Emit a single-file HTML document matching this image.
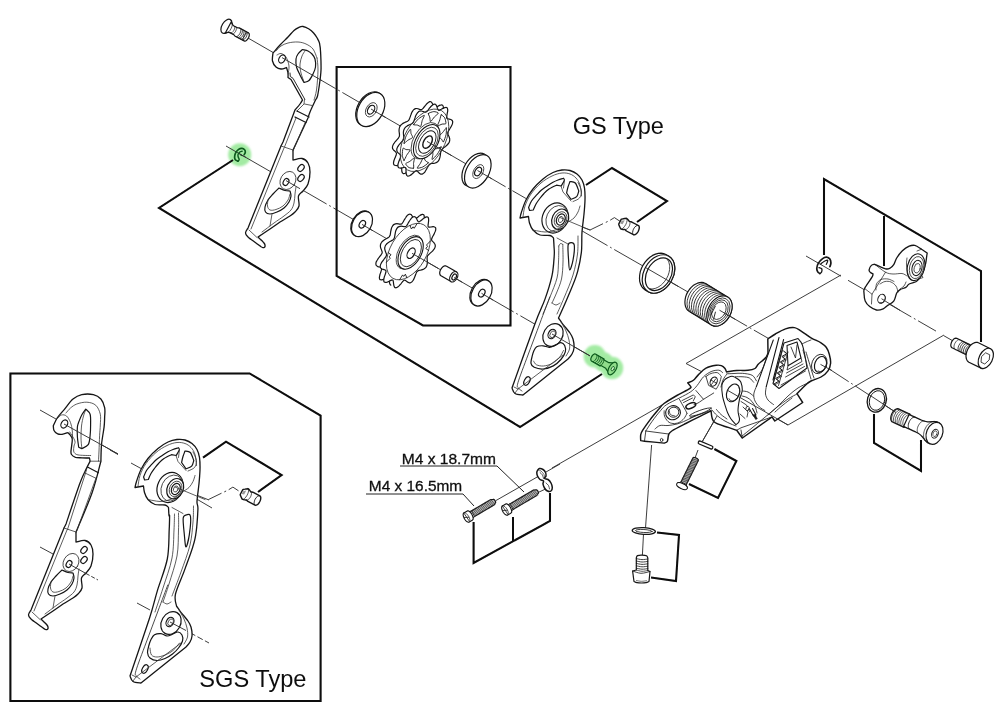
<!DOCTYPE html>
<html><head><meta charset="utf-8"><title>Rear derailleur exploded view</title>
<style>html,body{margin:0;padding:0;background:#fff}svg{display:block}</style>
</head><body>
<svg width="1000" height="709" viewBox="0 0 1000 709">
<defs><filter id="soft" filterUnits="userSpaceOnUse" x="0" y="0" width="1000" height="709"><feGaussianBlur stdDeviation="0.27"/></filter><filter id="gb" filterUnits="userSpaceOnUse" x="0" y="0" width="1000" height="709"><feGaussianBlur stdDeviation="1.3"/></filter></defs>
<rect width="1000" height="709" fill="#fff"/>
<g filter="url(#soft)">
<g id="glow"><circle cx="239.7" cy="154.7" r="11.5" fill="#a3eba3" filter="url(#gb)"/><g filter="url(#gb)" fill="#a3eba3"><circle cx="594.8" cy="356.3" r="11.2"/><circle cx="612" cy="368" r="11.2"/><circle cx="603.5" cy="362" r="10"/></g></g>
<g fill="none" stroke="#333" stroke-width="0.95">
<line x1="248" y1="38" x2="322" y2="80.7"/>
<line x1="322" y1="80.7" x2="335.6" y2="88.6"/>
<line x1="338.2" y1="90.1" x2="339.8" y2="91"/>
<line x1="342.4" y1="92.5" x2="356" y2="100.4"/>
<line x1="356" y1="100.4" x2="492" y2="178.9"/>
<line x1="492" y1="178.9" x2="505.6" y2="186.8"/>
<line x1="508.2" y1="188.3" x2="509.8" y2="189.2"/>
<line x1="512.4" y1="190.7" x2="526" y2="198.5"/>
<line x1="526" y1="198.5" x2="585" y2="232.6"/>
<line x1="585" y1="232.6" x2="607.5" y2="245.6"/>
<line x1="610.1" y1="247.1" x2="611.6" y2="248"/>
<line x1="614.2" y1="249.5" x2="640" y2="264.3"/>
<line x1="640" y1="264.3" x2="733" y2="318"/>
<line x1="733" y1="318" x2="747.1" y2="326.2"/>
<line x1="749.7" y1="327.7" x2="751.3" y2="328.6"/>
<line x1="753.9" y1="330.1" x2="768" y2="338.2"/>
<line x1="226" y1="146" x2="310" y2="194.4"/>
<line x1="310" y1="194.4" x2="326.6" y2="204"/>
<line x1="329.2" y1="205.5" x2="330.8" y2="206.4"/>
<line x1="333.4" y1="207.9" x2="350" y2="217.5"/>
<line x1="350" y1="217.5" x2="494" y2="300.6"/>
<line x1="494" y1="300.6" x2="513.6" y2="311.9"/>
<line x1="516.2" y1="313.4" x2="517.8" y2="314.3"/>
<line x1="520.4" y1="315.8" x2="540" y2="327.1"/>
<line x1="540" y1="327.1" x2="590" y2="355.9"/>
<line x1="806" y1="256" x2="841" y2="276.2"/>
<line x1="848" y1="280.3" x2="866" y2="290.7"/>
<line x1="880" y1="298.8" x2="911.3" y2="316.9"/>
<line x1="913.9" y1="318.4" x2="915.5" y2="319.3"/>
<line x1="918.1" y1="320.8" x2="936" y2="331.1"/>
<line x1="944" y1="335.8" x2="954" y2="341.5"/>
<line x1="820" y1="363" x2="848.7" y2="381.7"/>
<line x1="851.2" y1="383.3" x2="852.7" y2="384.3"/>
<line x1="855.2" y1="385.9" x2="896" y2="412.5"/>
<line x1="841" y1="275" x2="686" y2="363.5"/>
<line x1="686" y1="363.5" x2="708" y2="375"/>
<line x1="944" y1="335" x2="788" y2="425"/>
<line x1="788" y1="425" x2="727" y2="390"/>
<line x1="552" y1="468" x2="662" y2="405"/>
<line x1="651.6" y1="445" x2="645.5" y2="528"/>
<line x1="643.5" y1="534" x2="642.4" y2="555"/>
<line x1="717" y1="416" x2="702" y2="442"/>
<line x1="698" y1="450" x2="695" y2="458"/>
<line x1="40" y1="410" x2="118" y2="454"/>
<line x1="40" y1="547" x2="53" y2="554"/>
<line x1="69" y1="564" x2="86" y2="573.5"/>
<line x1="86" y1="573.5" x2="98" y2="580" stroke-dasharray="4 2"/>
<line x1="110" y1="450" x2="118" y2="454.5"/>
<line x1="131" y1="463" x2="141" y2="468.5"/>
<line x1="176" y1="487" x2="212" y2="508"/>
<line x1="137" y1="603" x2="150" y2="610"/>
<line x1="170" y1="622" x2="190" y2="632.7"/>
<line x1="190" y1="632.7" x2="209" y2="643" stroke-dasharray="6 2.5"/>
<line x1="558" y1="218" x2="590" y2="230"/>
<line x1="590" y1="230" x2="603" y2="223.7"/>
<line x1="605.8" y1="222.4" x2="607.6" y2="221.5"/>
<line x1="208.5" y1="499.5" x2="221.5" y2="493.2"/>
<line x1="224.3" y1="491.9" x2="226.1" y2="491"/>
<line x1="176" y1="487" x2="209" y2="500"/>
<line x1="560" y1="464" x2="496" y2="500.5"/>
<line x1="552" y1="486" x2="537" y2="493"/>
<path d="M610.2,220.2 L614.4,217.6 L620,221.3"/>
<path d="M228.7,489.7 L232.9,487.1 L238.5,490.8"/>
<path d="M400,466 L497,466 L524,492" stroke="#222" stroke-width="1"/>
<path d="M366,494 L463,494 L474,506" stroke="#222" stroke-width="1"/>
</g>
<g fill="#fff" stroke="#141414" stroke-width="1.2" stroke-linejoin="round" stroke-linecap="round">
<path d="M273,53 C274.2,51.7 277.5,47.7 280,45 C282.5,42.3 285.7,39.4 288,37 C290.3,34.6 292.2,32.1 294,30.5 C295.8,28.9 297.5,28.1 299,27.4 C300.5,26.7 301.3,26.2 303,26.5 C304.7,26.8 307.2,27.9 309,29 C310.8,30.1 312.3,31.5 313.6,33 C314.9,34.5 316,36 317,37.8 C318,39.6 319,41 319.6,43.7 C320.2,46.4 320.5,49.6 320.7,54 C320.9,58.4 321.2,65 321,70 C320.8,75 320.1,79.7 319.5,84 C318.9,88.3 318.2,93.3 317.5,96 C316.8,98.7 315.8,99.3 315.5,100 C314.6,102 311.2,109 310,112 C308.8,115 308.3,117 308,118 L293,150 L293,160 C294.5,159.8 299.5,158 302,158.5 C304.5,159 306.7,160.8 308,163 C309.3,165.2 310,168.5 310,172 C310,175.5 309.2,180.8 308,184 C306.8,187.2 304.6,189 303,191 C301.4,193 299.2,193.5 298.5,196 C297.8,198.5 299.6,203.3 299,206 C298.4,208.7 296.5,210.3 295,212 C293.5,213.7 292.5,214.3 290,216 C287.5,217.7 283.3,219.8 280,222 C276.7,224.2 273.7,226.5 270,229 C266.3,231.5 260,235.7 258,237 C259,238 262.8,241.4 264,243 C265.2,244.6 265.2,245.8 265,246.5 C264.8,247.2 264,248.1 262.5,247.5 C261,246.9 258.4,244.8 256,243 C253.6,241.2 249.8,238.7 248,237 C246.2,235.3 245.5,234.5 245.5,233 C245.5,231.5 247.6,228.8 248,228 L281,146 L283,142 L295,110 C295.8,109 298.8,105.7 300,104 C301.2,102.3 302.1,100.7 302.5,100 L291,79.5 L288,77.5 C288,76.8 288.2,74.7 288,73 C287.8,71.3 286.8,68.4 286.5,67.5 C285.6,67.8 282.8,69.1 281,69 C279.2,68.9 277.4,68.3 276,67 C274.6,65.7 273,63.3 272.5,61 C272,58.7 272.9,54.3 273,53Z" stroke-width="1.3"/>
<path d="M276,51 C276.8,50.2 279,47.3 281,46 C283,44.7 285.2,43.7 288,43 C290.8,42.3 295,41.8 298,42 C301,42.2 303.5,42.8 306,44 C308.5,45.2 311.2,46.7 313,49 C314.8,51.3 316.3,56.5 317,58" stroke-width="0.8" stroke="#333" fill="none"/>
<path d="M317,58 C317.2,60 318.1,64.7 318,70 C317.9,75.3 317.2,85 316.5,90 C315.8,95 314.4,98.3 314,100" stroke-width="0.8" stroke="#333" fill="none"/>
<path d="M288,74 C288.2,72.7 289.3,68.8 289,66 C288.7,63.2 287.3,59.1 286,57 C284.7,54.9 282.5,53.8 281,53.5 C279.5,53.2 277.7,54.8 277,55" stroke-width="0.8" stroke="#333" fill="none"/>
<ellipse cx="282" cy="59" rx="3" ry="4.3" transform="rotate(30 282 59)"/>
<path d="M302.5,49.5 C301.8,50.2 299.1,52.4 298,54 C296.9,55.6 296.2,56.8 296,59 C295.8,61.2 295.8,64.3 296.5,67 C297.2,69.7 298.8,72.4 300,75 C301.2,77.6 303.3,81.2 304,82.5 C304.8,82.2 307.5,81.9 309,80.5 C310.5,79.1 311.9,76.2 313,74 C314.1,71.8 315.2,69.5 315.5,67 C315.8,64.5 315.6,61.2 315,59 C314.4,56.8 313.2,55.3 312,54 C310.8,52.7 309.6,51.8 308,51 C306.4,50.2 303.4,49.8 302.5,49.5Z" fill="none"/>
<path d="M304,82 C303.5,80.5 301.7,76 301,73 C300.3,70 299.8,66.8 300,64 C300.2,61.2 301.2,58.2 302,56 C302.8,53.8 304.5,51.8 305,51" stroke-width="0.8" stroke="#333" fill="none"/>
<path d="M304.5,99.5 L304,104 L297,111" stroke-width="0.8" stroke="#333" fill="none"/>
<path d="M297,111 L309,117" fill="none"/>
<path d="M295,117 L306,122.5" fill="none"/>
<path d="M304.5,104 L312,105.5" stroke-width="0.8" stroke="#333" fill="none"/>
<path d="M290,73 L290.3,76.5 L293,78.3 L304.8,99.3" stroke-width="0.9" fill="none"/>
<path d="M296,118 L284.5,147" stroke-width="0.8" stroke="#333" fill="none"/>
<path d="M305,123 L293,151" stroke-width="0.8" stroke="#333" fill="none"/>
<path d="M281,146 L293,150" stroke-width="0.8" stroke="#333" fill="none"/>
<path d="M284,148 L251,229" stroke-width="0.8" stroke="#333" fill="none"/>
<ellipse cx="288" cy="180.5" rx="7.5" ry="9.5" transform="rotate(30 288 180.5)" stroke-width="0.8" stroke="#333"/>
<ellipse cx="286" cy="182" rx="2.6" ry="3.6" transform="rotate(30 286 182)"/>
<ellipse cx="301" cy="168" rx="2.6" ry="3.8" transform="rotate(40 301 168)"/>
<ellipse cx="301" cy="178" rx="2.6" ry="3.8" transform="rotate(40 301 178)"/>
<path d="M279,188 C278,189 274.8,192 273,194 C271.2,196 269.3,197.8 268,200 C266.7,202.2 265.4,205 265,207 C264.6,209 264.7,210.8 265.5,212 C266.3,213.2 268.1,214 270,214 C271.9,214 274.7,213 277,212 C279.3,211 282,209.7 284,208 C286,206.3 287.8,204 289,202 C290.2,200 290.8,197.8 291,196 C291.2,194.2 290.2,191.8 290,191 C289.2,190.9 286.8,191 285,190.5 C283.2,190 280,188.4 279,188Z" fill="none"/>
<path d="M268,200 C267.9,201 267.2,204.3 267.5,206 C267.8,207.7 268.6,209.4 270,210 C271.4,210.6 273.8,210.2 276,209.5 C278.2,208.8 281,207.6 283,206 C285,204.4 286.8,202 288,200 C289.2,198 289.7,195 290,194" stroke-width="0.8" stroke="#333" fill="none"/>
<path d="M296,187 C295.8,188.2 295.3,191.3 295,194 C294.7,196.7 294.7,200.3 294,203 C293.3,205.7 292.7,207.8 291,210 C289.3,212.2 286.8,213.8 284,216 C281.2,218.2 277.7,220.3 274,223 C270.3,225.7 264,230.5 262,232" stroke-width="0.8" stroke="#333" fill="none"/>
<path d="M272,214 L270,226" stroke-width="0.8" stroke="#333" fill="none"/>
<path d="M249,230 L257,237.5" stroke-width="0.8" stroke="#333" fill="none"/>
<path d="M53.3,425.7 C54,424.3 55.7,420.1 57.5,417.5 C59.3,414.9 61.4,412.9 64,409.8 C66.6,406.7 70,401.5 73,399 C76,396.5 78.4,395.3 81.8,394.6 C85.2,393.9 90.1,393.9 93.3,394.6 C96.5,395.3 99,396.8 100.9,399 C102.8,401.2 104.1,404.7 104.7,407.9 C105.3,411.1 104.7,414.8 104.6,418 C104.5,421.2 104.6,422.4 104.1,426.9 C103.6,431.3 102,439 101.5,444.7 C101,450.4 101,458.4 100.9,461.2 C99.4,466.5 96.2,481.2 92,493 C87.8,504.8 78.7,525.5 76,532 L76,542 C77.5,541.8 82.5,540 85,540.5 C87.5,541 89.7,542.8 91,545 C92.3,547.2 93,550.5 93,554 C93,557.5 92.2,562.8 91,566 C89.8,569.2 87.6,571 86,573 C84.4,575 82.2,575.5 81.5,578 C80.8,580.5 82.6,585.3 82,588 C81.4,590.7 79.5,592.3 78,594 C76.5,595.7 75.5,596.3 73,598 C70.5,599.7 66.3,601.8 63,604 C59.7,606.2 56.7,608.5 53,611 C49.3,613.5 43,617.7 41,619 C42,620 45.8,623.4 47,625 C48.2,626.6 48.2,627.8 48,628.5 C47.8,629.2 47,630.1 45.5,629.5 C44,628.9 41.4,626.8 39,625 C36.6,623.2 32.8,620.7 31,619 C29.2,617.3 28.5,616.5 28.5,615 C28.5,613.5 30.6,610.8 31,610 L64,528 L66,524 C68.3,517.2 76.5,492.4 80,483 C83.5,473.6 85.2,471.2 86.9,467.6 C88.6,464 89.6,462.3 90.1,461.2 L89.5,458 C88.2,458 84.3,457.9 82,457.8 C79.7,457.7 77.2,457.9 75.5,457.4 C73.8,456.8 72.2,455.6 71.5,454.5 C70.8,453.4 70.9,453.5 71,451 C71.1,448.5 72.4,442.2 72.3,439.6 C72.2,437 71.2,436.7 70.5,435.5 C69.8,434.3 68.3,433.1 67.9,432.6 C66.9,432.9 63.7,434.1 62,434.3 C60.3,434.5 59,434.5 57.7,433.9 C56.4,433.3 54.7,431.9 54,430.5 C53.3,429.1 53.4,426.5 53.3,425.7Z" stroke-width="1.3"/>
<path d="M66,413 C66.8,412.2 68.7,409.5 70.5,408 C72.3,406.5 74.1,405 76.8,404 C79.5,403 83.7,402 86.9,402.2 C90.1,402.4 93.6,403.3 95.8,405.3 C98,407.3 99.5,410.9 100.3,414.2 C101,417.5 100.4,421.4 100.3,425 C100.2,428.6 99.8,431.5 99.6,435.8 C99.4,440.1 99.2,446.8 99,451 C98.8,455.2 98.6,459.3 98.5,461" stroke-width="0.8" stroke="#333" fill="none"/>
<path d="M72.5,440 C72.5,438.5 72.6,433.9 72.3,431 C72,428.1 71.5,425 70.5,422.5 C69.5,420 68,417.2 66.5,416 C65,414.8 63,414.6 61.5,415 C60,415.4 58.2,417.9 57.5,418.5" stroke-width="0.8" stroke="#333" fill="none"/>
<ellipse cx="64.3" cy="424" rx="3.1" ry="4.3" transform="rotate(30 64.3 424)"/>
<path d="M85.7,409.1 C85.1,410 83.1,412.6 82,414.5 C80.9,416.4 80.1,418.5 79.3,420.6 C78.5,422.7 77.7,424.2 77.4,426.9 C77.1,429.6 77.2,433.6 77.4,437 C77.6,440.4 78.5,445.6 78.7,447.3 L81.8,448.6 C82.9,448 86.8,446.8 88.2,444.7 C89.6,442.6 89.7,439.1 90.1,435.8 C90.5,432.5 90.6,428.6 90.6,425 C90.6,421.4 90.9,416.8 90.1,414.2 C89.3,411.6 86.4,410 85.7,409.1Z" fill="none"/>
<path d="M81.8,448 C81.7,446.3 81,441.7 81,438 C81,434.3 81.1,429.7 81.5,426 C81.9,422.3 82.8,418.7 83.5,416 C84.2,413.3 85.3,411 85.7,410" stroke-width="0.8" stroke="#333" fill="none"/>
<path d="M69.8,432 C70.7,433.5 74.2,438.6 74.9,440.9 C75.6,443.2 74.2,444.3 74,446 C73.8,447.7 73.4,449.8 73.6,451 C73.8,452.2 74.3,452.9 75,453.5 C75.7,454.1 76.5,454.6 78,454.9 C79.5,455.2 81.9,455.3 84,455.4 C86.1,455.5 89.6,455.5 90.7,455.5" stroke-width="0.8" stroke="#333" fill="none"/>
<path d="M90.1,461.2 L100.9,461.2" stroke-width="0.8" stroke="#333" fill="none"/>
<path d="M87.5,467 L98.4,472.7" fill="none"/>
<path d="M85,473 L96.5,478.5" stroke-width="0.8" stroke="#333" fill="none"/>
<path d="M86.5,470 L67.5,529.5" stroke-width="0.8" stroke="#333" fill="none"/>
<path d="M96,478 L76,533" stroke-width="0.8" stroke="#333" fill="none"/>
<path d="M64,528 L76,532" stroke-width="0.8" stroke="#333" fill="none"/>
<path d="M67,530 L34,611" stroke-width="0.8" stroke="#333" fill="none"/>
<ellipse cx="71" cy="562.5" rx="7.5" ry="9.5" transform="rotate(30 71 562.5)" stroke-width="0.8" stroke="#333"/>
<ellipse cx="69" cy="564" rx="2.6" ry="3.6" transform="rotate(30 69 564)"/>
<ellipse cx="84" cy="550" rx="2.6" ry="3.8" transform="rotate(40 84 550)"/>
<ellipse cx="84" cy="560" rx="2.6" ry="3.8" transform="rotate(40 84 560)"/>
<path d="M62,570 C61,571 57.8,574 56,576 C54.2,578 52.3,579.8 51,582 C49.7,584.2 48.4,587 48,589 C47.6,591 47.7,592.8 48.5,594 C49.3,595.2 51.1,596 53,596 C54.9,596 57.7,595 60,594 C62.3,593 65,591.7 67,590 C69,588.3 70.8,586 72,584 C73.2,582 73.8,579.8 74,578 C74.2,576.2 73.2,573.8 73,573 C72.2,572.9 69.8,573 68,572.5 C66.2,572 63,570.4 62,570Z" fill="none"/>
<path d="M51,582 C50.9,583 50.2,586.3 50.5,588 C50.8,589.7 51.6,591.4 53,592 C54.4,592.6 56.8,592.2 59,591.5 C61.2,590.8 64,589.6 66,588 C68,586.4 69.8,584 71,582 C72.2,580 72.7,577 73,576" stroke-width="0.8" stroke="#333" fill="none"/>
<path d="M79,569 C78.8,570.2 78.3,573.3 78,576 C77.7,578.7 77.7,582.3 77,585 C76.3,587.7 75.7,589.8 74,592 C72.3,594.2 69.8,595.8 67,598 C64.2,600.2 60.7,602.3 57,605 C53.3,607.7 47,612.5 45,614" stroke-width="0.8" stroke="#333" fill="none"/>
<path d="M55,596 L53,608" stroke-width="0.8" stroke="#333" fill="none"/>
<path d="M32,612 L40,619.5" stroke-width="0.8" stroke="#333" fill="none"/>
<path d="M520,218 C520.2,217 520.5,215 521.5,212 C522.5,209 524.1,203.8 526,200 C527.9,196.2 530.2,192.5 533,189 C535.8,185.5 539.7,181.8 543,179 C546.3,176.2 549.8,174 553,172.5 C556.2,171 559.2,170.3 562,170 C564.8,169.7 567.5,169.8 570,170.5 C572.5,171.2 575,172.4 577,174 C579,175.6 580.8,177.7 582,180 C583.2,182.3 584,184.7 584.5,188 C585,191.3 585.1,195.7 585,200 C584.9,204.3 584.5,208.7 584,214 C583.5,219.3 582.5,225.5 582,232 C581.5,238.5 582.2,245.8 581.3,252.9 C580.4,260 579,267.1 576.7,274.6 C574.4,282.1 570.4,290.7 567.4,297.9 C564.4,305.1 560,314.6 558.5,318 C559.1,318.8 560.8,321.3 562,323 C563.2,324.7 564.7,326.3 566,328 C567.3,329.7 568.8,331.2 570,333 C571.2,334.8 572.3,336.5 573,339 C573.7,341.5 574.2,345.5 574,348 C573.8,350.5 573,352.2 572,354 C571,355.8 568.7,358.2 568,359 L523,395 C521.7,394.8 516.8,394.7 515,393.5 C513.2,392.3 512.5,388.9 512,388 C515.8,377.4 529.3,339 534.8,324.2 C540.3,309.4 542,307.4 544.9,299.4 C547.8,291.4 550.3,283.4 551.9,276.2 C553.5,269 553.9,261 554.2,256 C554.6,251 554.1,249 554,246 C553.9,243 553.6,239.3 553.5,238 C552.9,237.6 552.2,236 550,235.5 C547.8,235 542.8,235.9 540,235 C537.2,234.1 534.8,232 533,230 C531.2,228 530.2,225.2 529.5,223 C528.8,220.8 528.7,217.6 528.5,216.5 L520,218Z" stroke-width="1.3"/>
<path d="M523,217 C523.3,215.2 523.7,209.8 525,206 C526.3,202.2 528.3,197.8 531,194 C533.7,190.2 537.5,186 541,183 C544.5,180 548.5,177.7 552,176 C555.5,174.3 559,173.3 562,173 C565,172.7 567.7,173.2 570,174 C572.3,174.8 574.3,176.2 576,178 C577.7,179.8 579.1,182 580,185 C580.9,188 581.2,194.2 581.5,196" stroke-width="0.8" stroke="#333" fill="none"/>
<path d="M528.6,207.5 C529.1,206.4 530.2,203.1 531.5,201 C532.8,198.9 534.7,197 536.4,195.2 C538.1,193.4 539.7,191.5 541.5,190 C543.3,188.5 545.3,187.3 547.2,186 C549.1,184.7 551.2,183.3 553,182.3 C554.8,181.3 556.2,180.7 558,180 C559.8,179.3 562.6,178.5 563.5,178.2 C563.6,178.6 564.7,179.1 564.3,180.4 C563.9,181.7 561.7,185.1 561.2,186 L556.5,185.2 C555.2,185.8 551.1,187.6 549,189 C546.9,190.4 545.5,191.9 544,193.5 C542.5,195.1 541.1,196.8 539.8,198.5 C538.5,200.2 537.1,202.1 536,204 C534.9,205.9 533.8,209 533.3,210 L529.6,210.5 L528.6,207.5Z" fill="none"/>
<path d="M570,181.5 C569.7,182.4 568.6,185.1 568,187 C567.4,188.9 566.8,192 566.6,193 L571,199.3 C572,198.9 575.4,198 576.7,196.6 C578,195.2 578.4,191.9 578.8,191 C578.2,189.7 576.8,184.6 575.3,183 C573.8,181.4 570.9,181.8 570,181.5Z" fill="none"/>
<path d="M573,201.5 C574.1,200.9 578.1,199.8 579.5,198 C580.9,196.2 581.8,193.6 581.5,191 C581.2,188.4 578.6,183.9 578,182.5" stroke-width="0.8" stroke="#333" fill="none"/>
<path d="M564.5,180 L563.5,188" stroke-width="0.8" stroke="#333" fill="none"/>
<path d="M561,186 L563,192 L571,201" stroke-width="0.8" stroke="#333" fill="none"/>
<ellipse cx="555" cy="218" rx="12.5" ry="15.5" transform="rotate(25 555 218)"/>
<ellipse cx="557" cy="218.6" rx="10.5" ry="13.5" transform="rotate(25 557 218.6)" stroke-width="0.8" stroke="#333"/>
<ellipse cx="560.2" cy="219.2" rx="8" ry="10.6" transform="rotate(25 560.2 219.2)"/>
<ellipse cx="560.6" cy="219.4" rx="6" ry="8" transform="rotate(25 560.6 219.4)" stroke-width="0.8" stroke="#333"/>
<ellipse cx="560.8" cy="219.5" rx="4.2" ry="5.8" transform="rotate(25 560.8 219.5)"/>
<ellipse cx="560.8" cy="219.5" rx="2.2" ry="3.2" transform="rotate(25 560.8 219.5)" stroke-width="0.8" stroke="#333"/>
<path d="M560,217.5 L590,230" stroke-width="0.8" stroke="#333" fill="none"/>
<path d="M533,230 C533.8,230.2 536,230.7 538,231 C540,231.3 542.7,232 545,232 C547.3,232 549.5,231.7 552,231 C554.5,230.3 557.5,229.3 560,228 C562.5,226.7 565.8,223.8 567,223" stroke-width="0.8" stroke="#333" fill="none"/>
<path d="M568,222 C569,221.3 572.3,219.7 574,218 C575.7,216.3 577,214 578,212 C579,210 579.7,207 580,206" stroke-width="0.8" stroke="#333" fill="none"/>
<path d="M568.1,245.2 C568.5,242.6 570.3,242.7 571.2,242.7 C572.1,242.7 574,242.6 574.3,245.2 C574.6,247.8 573.7,256.4 573,260.1 C572.4,263.8 570.4,270 569.7,270 C569,270 568.8,263.8 568.6,260.1 C568.3,256.4 567.7,247.8 568.1,245.2Z" fill="none"/>
<path d="M558.8,246 C558.8,248.7 558.8,256.7 558.5,262 C558.2,267.3 558.4,272.2 557,278 C555.6,283.8 552.3,291 550,297 C547.7,303 544.2,311.2 543,314" stroke-width="0.8" stroke="#333" fill="none"/>
<path d="M562.8,244.5 C562.8,247.4 563.2,256.2 563,262 C562.8,267.8 562.6,273.8 561.5,279 C560.4,284.2 558.1,289 556.5,293 C554.9,297 552.8,301.3 552,303" stroke-width="0.8" stroke="#333" fill="none"/>
<path d="M558.8,246 C559.1,245.6 559.8,243.8 560.5,243.5 C561.2,243.2 562.4,244.3 562.8,244.5" stroke-width="0.8" stroke="#333" fill="none"/>
<path d="M578,236 C577.9,239 578.3,247.5 577.5,254 C576.7,260.5 575.2,267.7 573,275 C570.8,282.3 566.7,291.5 564,298 C561.3,304.5 558.2,311.3 557,314" stroke-width="0.8" stroke="#333" fill="none"/>
<path d="M552,303 C552.7,303.3 554.7,305 556,305 C557.3,305 559.3,303.3 560,303" stroke-width="0.8" stroke="#333" fill="none"/>
<path d="M557,238 L568,244" stroke-width="0.8" stroke="#333" fill="none"/>
<ellipse cx="553" cy="335" rx="9.5" ry="12" transform="rotate(30 553 335)"/>
<ellipse cx="552" cy="334" rx="3.6" ry="5" transform="rotate(30 552 334)"/>
<ellipse cx="552.6" cy="334.3" rx="2.4" ry="3.6" transform="rotate(30 552.6 334.3)" stroke-width="0.8" stroke="#333"/>
<path d="M543.1,345.8 C541,345.7 538.2,345.9 536.7,346.8 C535.2,347.7 534.5,349.5 533.8,351 C533.1,352.5 532.8,353.6 532.3,355.7 C531.8,357.8 530.7,361.4 531,363.3 C531.3,365.2 532.2,366.4 534.2,367.3 C536.2,368.2 539.9,369.2 543.1,369 C546.3,368.8 550.3,367.5 553.3,365.9 C556.3,364.3 558.9,361.8 560.9,359.5 C562.9,357.2 564.7,354.2 565.3,351.9 C565.9,349.6 565.4,347.2 564.7,345.6 C564,344.1 562.4,342.7 560.9,342.6 C559.4,342.5 557.7,344.1 555.8,344.9 C553.9,345.7 551.5,347.1 549.4,347.3 C547.3,347.5 545.2,345.9 543.1,345.8Z" fill="none"/>
<path d="M533.5,361 C534,361.6 534.8,364 536.5,364.8 C538.2,365.6 540.8,366.2 543.5,366 C546.2,365.8 549.8,364.8 552.5,363.3 C555.2,361.9 557.7,359.4 559.5,357.3 C561.3,355.2 562.8,351.6 563.5,350.5" stroke-width="0.8" stroke="#333" fill="none"/>
<path d="M561,322 C561.8,323.5 564.7,328 566,331 C567.3,334 568.4,337 569,340 C569.6,343 570,346.3 569.5,349 C569,351.7 566.6,354.8 566,356" stroke-width="0.8" stroke="#333" fill="none"/>
<ellipse cx="527" cy="381" rx="2.6" ry="4.6" transform="rotate(28 527 381)"/>
<path d="M549.8,297 C548.2,301.3 543.6,313.3 540,323 C536.4,332.7 531.7,345.1 528,355 C524.3,364.9 519.6,377 518,382.5 C516.4,388 517.8,386.6 518.5,388 C519.2,389.4 521.4,390.5 522,391" stroke-width="0.85" stroke="#2a2a2a" fill="none"/>
<path d="M515,393 L518,389 L563,355" stroke-width="0.8" stroke="#333" fill="none"/>
<path d="M518,389 L514,387" stroke-width="0.8" stroke="#333" fill="none"/>
<path d="M135,487.5 C135.2,486.5 135.5,484.5 136.5,481.5 C137.5,478.5 139.1,473.3 141,469.5 C142.9,465.7 145.2,462 148,458.5 C150.8,455 154.7,451.2 158,448.5 C161.3,445.8 164.8,443.5 168,442 C171.2,440.5 174.2,439.8 177,439.5 C179.8,439.2 182.5,439.3 185,440 C187.5,440.7 190,441.9 192,443.5 C194,445.1 195.8,447.2 197,449.5 C198.2,451.8 199,454.2 199.5,457.5 C200,460.8 200.1,465.2 200,469.5 C199.9,473.8 199.5,478.2 199,483.5 C198.5,488.8 197.2,497.1 197,501.5 C196.8,505.9 198.2,503.3 197.9,509.6 C197.6,515.9 197.1,529.3 194.9,539.2 C192.8,549.1 188.2,559.8 185,568.9 C181.8,578 176.9,587.8 175.5,594 C174.1,600.2 176.3,604 176.5,606 L176.5,606 C177.1,606.8 178.8,609.3 180,611 C181.2,612.7 182.7,614.3 184,616 C185.3,617.7 186.8,619.2 188,621 C189.2,622.8 190.3,624.5 191,627 C191.7,629.5 192.2,633.5 192,636 C191.8,638.5 191,640.2 190,642 C189,643.8 186.7,646.2 186,647 L141,683 C139.7,682.8 134.8,682.7 133,681.5 C131.2,680.3 130.5,676.9 130,676 C133.2,666.4 144.9,632.4 149.5,618.2 C154.1,604 154.4,600.5 157.4,590.6 C160.4,580.7 165.3,569.2 167.3,559 C169.3,548.8 168.8,536.6 169.2,529.4 C169.6,522.2 169.6,518.3 169.6,516 C169.6,513.7 169.2,516.9 169,515.5 C168.8,514.1 168.6,508.8 168.5,507.5 C167.9,507.1 167.2,505.5 165,505 C162.8,504.5 157.8,505.4 155,504.5 C152.2,503.6 149.8,501.5 148,499.5 C146.2,497.5 145.2,494.8 144.5,492.5 C143.8,490.2 143.7,487.1 143.5,486 L135,487.5Z" stroke-width="1.3"/>
<path d="M138,486.5 C138.3,484.7 138.7,479.3 140,475.5 C141.3,471.7 143.3,467.3 146,463.5 C148.7,459.7 152.5,455.5 156,452.5 C159.5,449.5 163.5,447.2 167,445.5 C170.5,443.8 174,442.8 177,442.5 C180,442.2 182.7,442.7 185,443.5 C187.3,444.3 189.3,445.7 191,447.5 C192.7,449.3 194.1,451.5 195,454.5 C195.9,457.5 196.2,463.7 196.5,465.5" stroke-width="0.8" stroke="#333" fill="none"/>
<path d="M143.6,477 C144.1,475.9 145.2,472.6 146.5,470.5 C147.8,468.4 149.7,466.5 151.4,464.7 C153.1,462.9 154.7,461 156.5,459.5 C158.3,458 160.3,456.8 162.2,455.5 C164.1,454.2 166.2,452.8 168,451.8 C169.8,450.8 171.2,450.2 173,449.5 C174.8,448.8 177.6,448 178.5,447.7 C178.6,448.1 179.7,448.6 179.3,449.9 C178.9,451.2 176.7,454.6 176.2,455.5 L171.5,454.7 C170.2,455.3 166.1,457.1 164,458.5 C161.9,459.9 160.5,461.4 159,463 C157.5,464.6 156.1,466.2 154.8,468 C153.5,469.8 152.1,471.6 151,473.5 C149.9,475.4 148.7,478.5 148.3,479.5 L144.6,480 L143.6,477Z" fill="none"/>
<path d="M185,451 C184.7,451.9 183.6,454.6 183,456.5 C182.4,458.4 181.8,461.5 181.6,462.5 L186,468.8 C187,468.4 190.4,467.5 191.7,466.1 C193,464.7 193.4,461.4 193.8,460.5 C193.2,459.2 191.8,454.1 190.3,452.5 C188.8,450.9 185.9,451.2 185,451Z" fill="none"/>
<path d="M188,471 C189.1,470.4 193.1,469.2 194.5,467.5 C195.9,465.8 196.8,463.1 196.5,460.5 C196.2,457.9 193.6,453.4 193,452" stroke-width="0.8" stroke="#333" fill="none"/>
<path d="M179.5,449.5 L178.5,457.5" stroke-width="0.8" stroke="#333" fill="none"/>
<path d="M176,455.5 L178,461.5 L186,470.5" stroke-width="0.8" stroke="#333" fill="none"/>
<ellipse cx="170" cy="487.5" rx="12.5" ry="15.5" transform="rotate(25 170 487.5)"/>
<ellipse cx="172" cy="488.1" rx="10.5" ry="13.5" transform="rotate(25 172 488.1)" stroke-width="0.8" stroke="#333"/>
<ellipse cx="175.2" cy="488.7" rx="8" ry="10.6" transform="rotate(25 175.2 488.7)"/>
<ellipse cx="175.6" cy="488.9" rx="6" ry="8" transform="rotate(25 175.6 488.9)" stroke-width="0.8" stroke="#333"/>
<ellipse cx="175.8" cy="489" rx="4.2" ry="5.8" transform="rotate(25 175.8 489)"/>
<ellipse cx="175.8" cy="489" rx="2.2" ry="3.2" transform="rotate(25 175.8 489)" stroke-width="0.8" stroke="#333"/>
<path d="M175,487 L205,499.5" stroke-width="0.8" stroke="#333" fill="none"/>
<path d="M148,499.5 C148.8,499.7 151,500.2 153,500.5 C155,500.8 157.7,501.5 160,501.5 C162.3,501.5 164.5,501.2 167,500.5 C169.5,499.8 172.5,498.8 175,497.5 C177.5,496.2 180.8,493.3 182,492.5" stroke-width="0.8" stroke="#333" fill="none"/>
<path d="M183,491.5 C184,490.8 187.3,489.2 189,487.5 C190.7,485.8 192,483.5 193,481.5 C194,479.5 194.7,476.5 195,475.5" stroke-width="0.8" stroke="#333" fill="none"/>
<path d="M183.2,518 C183.6,514.9 185.8,515 186.8,514.8 C187.9,514.5 190.1,513.5 190.5,516.5 C190.9,519.5 190,530.2 189.3,534.8 C188.6,539.4 186.7,546.9 186,547 C185.3,547.1 184.8,539.8 184.4,535.4 C184,531 182.8,521.1 183.2,518Z" fill="none"/>
<path d="M174.5,514 C174.4,516.7 174.4,522.7 174,530 C173.6,537.3 173.8,548.3 172,558 C170.2,567.7 165.8,579 163,588 C160.2,597 156.3,608 155,612" stroke-width="0.8" stroke="#333" fill="none"/>
<path d="M178.5,513 C178.5,515.8 178.8,522.8 178.5,530 C178.2,537.2 178.6,547 177,556 C175.4,565 171.3,576.3 169,584 C166.7,591.7 164,599 163,602" stroke-width="0.8" stroke="#333" fill="none"/>
<path d="M193.5,506 C193.4,508.7 193.6,515.5 193,522 C192.4,528.5 192,536.7 190,545 C188,553.3 184,563.5 181,572 C178,580.5 173.5,592 172,596" stroke-width="0.8" stroke="#333" fill="none"/>
<path d="M163,602 C163.7,602.3 165.7,604 167,604 C168.3,604 170.3,602.3 171,602" stroke-width="0.8" stroke="#333" fill="none"/>
<path d="M172,507.5 L183,513.5" stroke-width="0.8" stroke="#333" fill="none"/>
<ellipse cx="171" cy="623" rx="9.5" ry="12" transform="rotate(30 171 623)"/>
<ellipse cx="170" cy="622" rx="3.6" ry="5" transform="rotate(30 170 622)"/>
<ellipse cx="170.6" cy="622.3" rx="2.4" ry="3.6" transform="rotate(30 170.6 622.3)" stroke-width="0.8" stroke="#333"/>
<path d="M161,633.6 C158.9,633.4 156.2,633.8 154.5,634.8 C152.8,635.8 151.9,637.8 151,639.5 C150.1,641.2 149.6,642.8 149,645 C148.4,647.2 147.3,650.3 147.5,652.5 C147.7,654.7 148.4,656.7 150,658 C151.6,659.3 154.5,660.4 157,660.5 C159.5,660.6 162.4,659.6 165,658.5 C167.6,657.4 170.2,655.8 172.5,654 C174.8,652.2 176.8,650.2 178.5,648 C180.2,645.8 181.9,643.2 182.5,641 C183.1,638.8 182.8,636.5 182,635 C181.2,633.5 179.5,632.2 178,632 C176.5,631.8 174.8,633.3 173,634 C171.2,634.7 169,636.1 167,636 C165,635.9 163.1,633.8 161,633.6Z" fill="none"/>
<path d="M150,648 C150.2,649.2 150.3,653.5 151.5,655 C152.7,656.5 154.8,657 157,657 C159.2,657 162.3,656.1 165,655 C167.7,653.9 170.6,652.5 173,650.5 C175.4,648.5 178.4,644.2 179.5,643" stroke-width="0.8" stroke="#333" fill="none"/>
<path d="M179,610 C179.8,611.5 182.7,616 184,619 C185.3,622 186.4,625 187,628 C187.6,631 188,634.3 187.5,637 C187,639.7 184.6,642.8 184,644" stroke-width="0.8" stroke="#333" fill="none"/>
<ellipse cx="145" cy="669" rx="2.6" ry="4.6" transform="rotate(28 145 669)"/>
<path d="M167.8,585 C166.2,589.3 161.6,601.3 158,611 C154.4,620.7 149.7,633.1 146,643 C142.3,652.9 137.6,665 136,670.5 C134.4,676 135.8,674.6 136.5,676 C137.2,677.4 139.4,678.5 140,679" stroke-width="0.85" stroke="#2a2a2a" fill="none"/>
<path d="M133,681 L136,677 L181,643" stroke-width="0.8" stroke="#333" fill="none"/>
<path d="M136,677 L132,675" stroke-width="0.8" stroke="#333" fill="none"/>
<ellipse cx="369.8" cy="108.9" rx="12.3" ry="18.4" transform="rotate(30 369.8 108.9)"/>
<ellipse cx="370.8" cy="109.5" rx="12.3" ry="18.4" transform="rotate(30 370.8 109.5)"/>
<ellipse cx="371.3" cy="109.8" rx="5.2" ry="7.7" transform="rotate(30 371.3 109.8)" stroke-width="0.8" stroke="#333" fill="none"/>
<ellipse cx="371.1" cy="109.7" rx="3.2" ry="4.8" transform="rotate(30 371.1 109.7)"/>
<ellipse cx="475.2" cy="169.8" rx="11.2" ry="18.2" transform="rotate(30 475.2 169.8)"/>
<ellipse cx="477.8" cy="171.3" rx="11.2" ry="18.2" transform="rotate(30 477.8 171.3)"/>
<ellipse cx="478.3" cy="171.6" rx="4.7" ry="7.6" transform="rotate(30 478.3 171.6)" stroke-width="0.8" stroke="#333" fill="none"/>
<ellipse cx="478.1" cy="171.5" rx="2.9" ry="4.7" transform="rotate(30 478.1 171.5)"/>
<ellipse cx="361.3" cy="223.6" rx="9.3" ry="13.6" transform="rotate(30 361.3 223.6)"/>
<ellipse cx="362" cy="224" rx="9.3" ry="13.6" transform="rotate(30 362 224)"/>
<ellipse cx="362.5" cy="224.3" rx="0" ry="0" transform="rotate(30 362.5 224.3)" stroke-width="0.8" stroke="#333" fill="none"/>
<ellipse cx="362.3" cy="224.2" rx="2.8" ry="4.1" transform="rotate(30 362.3 224.2)"/>
<ellipse cx="480.5" cy="292.4" rx="9.3" ry="14" transform="rotate(30 480.5 292.4)"/>
<ellipse cx="481.5" cy="293" rx="9.3" ry="14" transform="rotate(30 481.5 293)"/>
<ellipse cx="482" cy="293.3" rx="0" ry="0" transform="rotate(30 482 293.3)" stroke-width="0.8" stroke="#333" fill="none"/>
<ellipse cx="481.8" cy="293.2" rx="2.8" ry="4.2" transform="rotate(30 481.8 293.2)"/>
<path d="M456.6,271.9 L446.6,266.2 L445.7,265.9 L444.7,265.9 L443.7,266.3 L442.6,267.1 L441.6,268.1 L440.8,269.3 L440.2,270.6 L439.8,271.9 L439.7,273.2 L439.9,274.3 L440.3,275.2 L441,275.8 L451,281.6Z"/>
<ellipse cx="453.8" cy="276.8" rx="3.5" ry="5.6" transform="rotate(30 453.8 276.8)"/>
<ellipse cx="454.2" cy="277" rx="1.9" ry="3.2" transform="rotate(30 454.2 277)" fill="none"/>
<path d="M437,147.5 C436.8,147.9 436.6,148.6 436.5,149.1 C436.4,149.5 436.3,150.4 436.2,150.9 C436.1,151.4 436,152.4 436,153 C435.9,153.5 435.7,154.5 435.5,155.1 C435.4,155.6 435.1,156.5 434.9,157 C434.6,157.5 434.2,158.3 433.8,158.6 C433.5,159 432.9,159.6 432.5,159.8 C432.2,160.1 431.4,160.4 431,160.5 C430.6,160.7 429.8,160.8 429.4,160.8 C429,160.9 428.3,160.9 427.9,160.9 C427.5,161 426.9,161 426.5,161.1 C426.2,161.2 425.6,161.4 425.3,161.7 C425,161.9 424.6,162.5 424.3,162.9 C424,163.4 423.5,164.2 423.3,164.8 C423,165.3 422.5,166.3 422.2,166.8 C421.9,167.4 421.3,168.3 420.9,168.8 C420.6,169.3 420,170.1 419.6,170.4 C419.3,170.8 418.6,171.3 418.3,171.4 C417.9,171.6 417.3,171.7 417,171.7 C416.6,171.7 416.1,171.5 415.8,171.3 C415.5,171.2 415,170.7 414.7,170.4 C414.5,170.2 414,169.6 413.8,169.4 C413.6,169.1 413.2,168.7 412.9,168.5 C412.7,168.3 412.3,168.1 412,168.2 C411.7,168.2 411.1,168.6 410.8,168.8 C410.4,169.1 409.7,169.7 409.3,170 C408.9,170.4 408.2,171.1 407.7,171.4 C407.3,171.8 406.5,172.4 406.1,172.7 C405.7,173 405,173.4 404.6,173.5 C404.2,173.6 403.6,173.7 403.3,173.6 C403,173.5 402.6,173.1 402.4,172.9 C402.3,172.6 402,171.9 401.9,171.5 C401.8,171.1 401.8,170.2 401.7,169.7 C401.7,169.2 401.7,168.3 401.7,167.8 C401.7,167.3 401.7,166.5 401.6,166.2 C401.6,165.8 401.4,165.2 401.2,165.1 C401,164.9 400.6,164.8 400.2,164.8 C399.9,164.8 399.2,165 398.8,165.1 C398.4,165.1 397.7,165.3 397.3,165.4 C396.8,165.5 396.1,165.6 395.7,165.5 C395.3,165.5 394.7,165.4 394.5,165.2 C394.2,165.1 393.8,164.6 393.7,164.3 C393.6,164 393.5,163.3 393.5,162.9 C393.6,162.4 393.7,161.5 393.9,161 C394,160.4 394.4,159.4 394.6,158.8 C394.8,158.3 395.3,157.2 395.5,156.7 C395.7,156.2 396.1,155.3 396.2,154.8 C396.3,154.4 396.5,153.6 396.5,153.3 C396.5,153 396.2,152.5 396,152.3 C395.8,152 395.4,151.7 395.1,151.4 C394.9,151.2 394.3,150.8 394,150.6 C393.8,150.3 393.3,149.9 393.1,149.5 C392.9,149.2 392.6,148.6 392.5,148.2 C392.5,147.9 392.4,147.1 392.5,146.7 C392.6,146.2 392.9,145.4 393.1,144.9 C393.3,144.4 393.8,143.6 394.2,143.1 C394.5,142.6 395.2,141.8 395.6,141.3 C396,140.8 396.7,140 397.1,139.6 C397.5,139.2 398.1,138.5 398.4,138.1 C398.7,137.7 399.1,137 399.3,136.6 C399.4,136.2 399.5,135.5 399.5,135.1 C399.5,134.7 399.4,133.9 399.4,133.5 C399.3,133 399.2,132.2 399.1,131.7 C399.1,131.2 399,130.3 399.1,129.8 C399.1,129.3 399.2,128.4 399.4,127.9 C399.5,127.5 399.8,126.6 400.1,126.2 C400.3,125.8 400.9,125.1 401.2,124.7 C401.6,124.3 402.3,123.8 402.7,123.5 C403.1,123.2 403.9,122.8 404.4,122.6 C404.8,122.4 405.6,122.1 406,121.9 C406.4,121.7 407.1,121.5 407.5,121.2 C407.9,121 408.4,120.6 408.7,120.3 C409,120 409.3,119.3 409.5,118.8 C409.7,118.4 410,117.4 410.2,116.9 C410.4,116.4 410.7,115.3 410.9,114.8 C411.1,114.2 411.5,113.2 411.7,112.6 C412,112.1 412.5,111.2 412.8,110.8 C413.1,110.4 413.7,109.7 414,109.4 C414.4,109.1 415,108.8 415.4,108.6 C415.8,108.5 416.4,108.5 416.8,108.5 C417.2,108.5 417.8,108.7 418.2,108.8 C418.5,108.9 419.1,109.2 419.5,109.3 C419.8,109.4 420.3,109.6 420.6,109.7 C420.9,109.7 421.4,109.7 421.8,109.5 C422.1,109.4 422.6,108.9 422.9,108.5 C423.2,108.2 423.8,107.4 424.2,107 C424.6,106.5 425.2,105.6 425.6,105.2 C426,104.7 426.7,103.8 427.1,103.5 C427.5,103.1 428.2,102.4 428.6,102.2 C428.9,102 429.6,101.7 429.9,101.6 C430.3,101.6 430.8,101.7 431.1,101.8 C431.3,102 431.8,102.5 432,102.8 C432.2,103.1 432.5,103.8 432.6,104.2 C432.8,104.6 433,105.3 433.1,105.7 C433.2,106.1 433.4,106.7 433.6,107 C433.8,107.3 434.1,107.7 434.3,107.8 C434.6,107.8 435.1,107.7 435.5,107.6 C435.8,107.4 436.5,107 436.9,106.8 C437.4,106.6 438.2,106.1 438.6,105.9 C439,105.7 439.8,105.3 440.2,105.2 C440.7,105 441.3,104.9 441.7,104.9 C442,104.9 442.5,105.1 442.7,105.3 C442.9,105.5 443.2,106.1 443.3,106.5 C443.4,106.8 443.4,107.7 443.4,108.2 C443.3,108.7 443.2,109.7 443.1,110.2 C443,110.8 442.8,111.8 442.7,112.3 C442.6,112.8 442.4,113.7 442.3,114.2 C442.3,114.6 442.3,115.2 442.4,115.5 C442.5,115.8 442.9,116 443.1,116.2 C443.4,116.3 444,116.4 444.3,116.5 C444.7,116.6 445.4,116.7 445.7,116.8 C446.1,116.9 446.7,117.1 447,117.2 C447.3,117.4 447.8,117.8 448,118.1 C448.1,118.4 448.3,119 448.4,119.3 C448.4,119.7 448.3,120.5 448.2,121 C448,121.5 447.7,122.4 447.4,123 C447.2,123.5 446.6,124.5 446.3,125 C446,125.6 445.4,126.5 445.1,127 C444.8,127.5 444.2,128.3 444,128.8 C443.8,129.2 443.5,130 443.4,130.3 C443.3,130.7 443.4,131.3 443.5,131.7 C443.6,132 443.9,132.6 444.1,132.9 C444.2,133.3 444.6,133.9 444.7,134.3 C444.9,134.7 445.2,135.4 445.3,135.8 C445.4,136.3 445.4,137 445.4,137.5 C445.4,137.9 445.2,138.8 445.1,139.2 C444.9,139.7 444.5,140.5 444.2,140.9 C443.9,141.4 443.2,142.1 442.8,142.5 C442.4,142.9 441.6,143.5 441.2,143.9 C440.8,144.2 440,144.8 439.6,145.1 C439.2,145.4 438.5,146 438.1,146.3 C437.8,146.6 437.3,147.2 437,147.5Z" stroke="none"/>
<path d="M407.7,171.4 C407.5,171.6 406.5,172.4 406.1,172.7 C405.7,173 405,173.4 404.6,173.5 C404.2,173.6 403.6,173.7 403.3,173.6 C403,173.5 402.6,173.1 402.4,172.9 C402.3,172.6 402,171.9 401.9,171.5 C401.8,171.1 401.8,170.2 401.7,169.7 C401.7,169.2 401.7,168.3 401.7,167.8 C401.7,167.3 401.7,166.5 401.6,166.2 C401.6,165.8 401.4,165.2 401.2,165.1 C401,164.9 400.6,164.8 400.2,164.8 C399.9,164.8 399.2,165 398.8,165.1 C398.4,165.1 397.7,165.3 397.3,165.4 C396.8,165.5 396.1,165.6 395.7,165.5 C395.3,165.5 394.7,165.4 394.5,165.2 C394.2,165.1 393.8,164.6 393.7,164.3 C393.6,164 393.5,163.3 393.5,162.9 C393.6,162.4 393.7,161.5 393.9,161 C394,160.4 394.4,159.4 394.6,158.8 C394.8,158.3 395.3,157.2 395.5,156.7 C395.7,156.2 396.1,155.3 396.2,154.8 C396.3,154.4 396.5,153.6 396.5,153.3 C396.5,153 396.2,152.5 396,152.3 C395.8,152 395.4,151.7 395.1,151.4 C394.9,151.2 394.3,150.8 394,150.6 C393.8,150.3 393.3,149.9 393.1,149.5 C392.9,149.2 392.6,148.6 392.5,148.2 C392.5,147.9 392.4,147.1 392.5,146.7 C392.6,146.2 392.9,145.4 393.1,144.9 C393.3,144.4 393.8,143.6 394.2,143.1 C394.5,142.6 395.2,141.8 395.6,141.3 C396,140.8 396.7,140 397.1,139.6 C397.5,139.2 398.1,138.5 398.4,138.1 C398.7,137.7 399.1,137 399.3,136.6 C399.4,136.2 399.5,135.5 399.5,135.1 C399.5,134.7 399.4,133.9 399.4,133.5 C399.3,133 399.2,132.2 399.1,131.7 C399.1,131.2 399,130.3 399.1,129.8 C399.1,129.3 399.2,128.4 399.4,127.9 C399.5,127.5 399.8,126.6 400.1,126.2 C400.3,125.8 400.9,125.1 401.2,124.7 C401.6,124.3 402.3,123.8 402.7,123.5 C403.1,123.2 403.9,122.8 404.4,122.6 C404.8,122.4 405.6,122.1 406,121.9 C406.4,121.7 407.1,121.5 407.5,121.2 C407.9,121 408.4,120.6 408.7,120.3 C409,120 409.3,119.3 409.5,118.8 C409.7,118.4 410,117.4 410.2,116.9 C410.4,116.4 410.7,115.3 410.9,114.8 C411.1,114.2 411.5,113.2 411.7,112.6 C412,112.1 412.5,111.2 412.8,110.8 C413.1,110.4 413.7,109.7 414,109.4 C414.4,109.1 415,108.8 415.4,108.6 C415.8,108.5 416.4,108.5 416.8,108.5 C417.2,108.5 417.8,108.7 418.2,108.8 C418.5,108.9 419.1,109.2 419.5,109.3 C419.8,109.4 420.3,109.6 420.6,109.7 C420.9,109.7 421.4,109.7 421.8,109.5 C422.1,109.4 422.6,108.9 422.9,108.5 C423.2,108.2 423.8,107.4 424.2,107 C424.6,106.5 425.2,105.6 425.6,105.2 C426,104.7 426.7,103.8 427.1,103.5 C427.5,103.1 428.2,102.4 428.6,102.2 C428.9,102 429.6,101.7 429.9,101.6 C430.3,101.6 430.8,101.7 431.1,101.8 C431.3,102 431.8,102.5 432,102.8 C432.2,103.1 432.5,103.8 432.6,104.2 C432.8,104.6 433,105.3 433.1,105.7 C433.2,106.1 433.4,106.7 433.6,107 C433.8,107.3 434.1,107.7 434.3,107.8 C434.6,107.8 435.1,107.7 435.5,107.6 C435.8,107.4 436.5,107 436.9,106.8 C437.4,106.6 438.2,106.1 438.6,105.9 C439,105.7 439.8,105.3 440.2,105.2 C440.7,105 441.3,104.9 441.7,104.9 C442,104.9 442.5,105.1 442.7,105.3 C442.9,105.5 443.2,106.1 443.3,106.5 C443.4,106.8 443.4,107.7 443.4,108.2 C443.3,108.7 443.1,109.9 443.1,110.2" fill="none"/>
<path d="M441.4,150 C441.2,150.4 440.9,151.1 440.8,151.6 C440.7,152 440.6,152.9 440.5,153.4 C440.5,153.9 440.4,154.9 440.3,155.5 C440.2,156 440,157 439.9,157.6 C439.7,158.1 439.4,159 439.2,159.5 C439,160 438.5,160.8 438.2,161.1 C437.9,161.5 437.2,162.1 436.9,162.3 C436.5,162.6 435.8,162.9 435.3,163 C434.9,163.2 434.2,163.3 433.8,163.3 C433.4,163.4 432.6,163.4 432.2,163.4 C431.9,163.5 431.2,163.5 430.9,163.6 C430.5,163.7 430,163.9 429.7,164.2 C429.4,164.4 428.9,165 428.6,165.4 C428.3,165.9 427.9,166.7 427.6,167.3 C427.3,167.8 426.8,168.8 426.5,169.3 C426.2,169.9 425.6,170.8 425.3,171.3 C424.9,171.8 424.3,172.6 424,172.9 C423.6,173.3 423,173.8 422.6,173.9 C422.3,174.1 421.6,174.2 421.3,174.2 C421,174.2 420.4,174 420.1,173.8 C419.8,173.7 419.3,173.2 419.1,172.9 C418.8,172.7 418.4,172.1 418.1,171.9 C417.9,171.6 417.5,171.2 417.3,171 C417,170.8 416.6,170.6 416.3,170.7 C416,170.7 415.5,171.1 415.1,171.3 C414.7,171.6 414.1,172.2 413.7,172.5 C413.3,172.9 412.5,173.6 412.1,173.9 C411.6,174.3 410.9,174.9 410.4,175.2 C410,175.5 409.3,175.9 408.9,176 C408.5,176.1 407.9,176.2 407.7,176.1 C407.4,176 407,175.6 406.8,175.4 C406.6,175.1 406.4,174.4 406.3,174 C406.2,173.6 406.1,172.7 406.1,172.2 C406,171.7 406.1,170.8 406,170.3 C406,169.8 406,169 406,168.7 C405.9,168.3 405.7,167.7 405.6,167.6 C405.4,167.4 404.9,167.3 404.6,167.3 C404.2,167.3 403.6,167.5 403.2,167.6 C402.8,167.6 402,167.8 401.6,167.9 C401.2,168 400.4,168.1 400,168 C399.7,168 399.1,167.9 398.8,167.7 C398.5,167.6 398.2,167.1 398.1,166.8 C397.9,166.5 397.8,165.8 397.9,165.4 C397.9,164.9 398.1,164 398.2,163.5 C398.4,162.9 398.7,161.9 398.9,161.3 C399.2,160.8 399.6,159.7 399.8,159.2 C400,158.7 400.4,157.8 400.5,157.3 C400.7,156.9 400.8,156.1 400.8,155.8 C400.8,155.5 400.5,155 400.4,154.8 C400.2,154.5 399.7,154.2 399.5,153.9 C399.2,153.7 398.6,153.3 398.4,153.1 C398.1,152.8 397.6,152.4 397.4,152 C397.2,151.7 396.9,151.1 396.9,150.7 C396.8,150.4 396.8,149.6 396.8,149.2 C396.9,148.7 397.2,147.9 397.4,147.4 C397.6,146.9 398.2,146.1 398.5,145.6 C398.8,145.1 399.5,144.3 399.9,143.8 C400.3,143.3 401,142.5 401.4,142.1 C401.8,141.7 402.4,141 402.7,140.6 C403,140.2 403.5,139.5 403.6,139.1 C403.7,138.7 403.8,138 403.8,137.6 C403.8,137.2 403.7,136.4 403.7,136 C403.6,135.5 403.5,134.7 403.5,134.2 C403.4,133.7 403.4,132.8 403.4,132.3 C403.4,131.8 403.6,130.9 403.7,130.4 C403.8,130 404.2,129.1 404.4,128.7 C404.7,128.3 405.2,127.6 405.6,127.2 C405.9,126.8 406.6,126.3 407.1,126 C407.5,125.7 408.3,125.3 408.7,125.1 C409.2,124.9 409.9,124.6 410.4,124.4 C410.8,124.2 411.5,124 411.8,123.7 C412.2,123.5 412.7,123.1 413,122.8 C413.3,122.5 413.6,121.8 413.8,121.3 C414,120.9 414.3,119.9 414.5,119.4 C414.7,118.9 415,117.8 415.2,117.3 C415.4,116.7 415.8,115.7 416.1,115.1 C416.3,114.6 416.8,113.7 417.1,113.3 C417.4,112.9 418,112.2 418.4,111.9 C418.7,111.6 419.4,111.3 419.7,111.1 C420.1,111 420.8,111 421.1,111 C421.5,111 422.2,111.2 422.5,111.3 C422.9,111.4 423.5,111.7 423.8,111.8 C424.1,111.9 424.7,112.1 425,112.2 C425.3,112.2 425.8,112.2 426.1,112 C426.4,111.9 426.9,111.4 427.3,111 C427.6,110.7 428.2,109.9 428.5,109.5 C428.9,109 429.6,108.1 429.9,107.7 C430.3,107.2 431,106.3 431.4,106 C431.8,105.6 432.5,104.9 432.9,104.7 C433.3,104.5 433.9,104.2 434.3,104.1 C434.6,104.1 435.1,104.2 435.4,104.3 C435.7,104.5 436.1,105 436.3,105.3 C436.5,105.6 436.8,106.3 436.9,106.7 C437.1,107.1 437.3,107.8 437.4,108.2 C437.6,108.6 437.8,109.2 437.9,109.5 C438.1,109.8 438.4,110.2 438.6,110.3 C438.9,110.3 439.4,110.2 439.8,110.1 C440.1,109.9 440.8,109.5 441.3,109.3 C441.7,109.1 442.5,108.6 442.9,108.4 C443.4,108.2 444.2,107.8 444.6,107.7 C445,107.5 445.7,107.4 446,107.4 C446.3,107.4 446.8,107.6 447.1,107.8 C447.3,108 447.5,108.6 447.6,109 C447.7,109.3 447.7,110.2 447.7,110.7 C447.7,111.2 447.5,112.2 447.4,112.7 C447.3,113.3 447.1,114.3 447,114.8 C446.9,115.3 446.7,116.2 446.7,116.7 C446.6,117.1 446.6,117.7 446.7,118 C446.8,118.3 447.2,118.5 447.5,118.7 C447.7,118.8 448.3,118.9 448.7,119 C449,119.1 449.7,119.2 450.1,119.3 C450.4,119.4 451,119.6 451.3,119.7 C451.6,119.9 452.1,120.3 452.3,120.6 C452.5,120.9 452.7,121.5 452.7,121.8 C452.7,122.2 452.6,123 452.5,123.5 C452.4,124 452,124.9 451.7,125.5 C451.5,126 450.9,127 450.6,127.5 C450.3,128.1 449.7,129 449.4,129.5 C449.1,130 448.6,130.8 448.3,131.3 C448.1,131.7 447.8,132.5 447.7,132.8 C447.7,133.2 447.8,133.8 447.9,134.2 C447.9,134.5 448.2,135.1 448.4,135.4 C448.6,135.8 448.9,136.4 449.1,136.8 C449.2,137.2 449.5,137.9 449.6,138.3 C449.7,138.8 449.8,139.5 449.7,140 C449.7,140.4 449.6,141.3 449.4,141.7 C449.2,142.2 448.8,143 448.5,143.4 C448.2,143.9 447.5,144.6 447.1,145 C446.7,145.4 446,146 445.5,146.4 C445.1,146.7 444.3,147.3 443.9,147.6 C443.5,147.9 442.8,148.5 442.4,148.8 C442.1,149.1 441.6,149.7 441.4,150Z"/>
<ellipse cx="424.5" cy="140.3" rx="20" ry="34.2" transform="rotate(30 424.5 140.3)" stroke-width="0.8" stroke="#333" fill="none"/>
<path d="M441.2,147 C441.2,147.5 438.3,152.8 437.4,154.1 C436.5,155.3 432.6,159.5 432.1,159.5 C431.7,159.6 432.8,155.5 432.9,154.4 C433,153.4 432.4,149.8 432.8,149.2 C433.3,148.6 436.3,148.8 437.1,148.6 C438,148.3 441.2,146.4 441.2,147Z" stroke-width="0.9" fill="none"/>
<path d="M428.3,162.9 C428,163.5 423.8,166.5 422.7,167 C421.6,167.6 417.4,168.5 417.2,168.1 C417,167.7 419.8,164.4 420.4,163.3 C421,162.3 422.8,157.8 423.3,157.6 C423.8,157.3 425.1,160.3 425.6,160.9 C426.1,161.4 428.6,162.3 428.3,162.9Z" stroke-width="0.9" fill="none"/>
<path d="M413.6,168.2 C413.2,168.6 409.6,168 408.8,167.5 C408,167.1 405.6,164.3 405.7,163.7 C405.8,163.1 409,162 409.8,161.4 C410.7,160.8 414,157.7 414.4,157.9 C414.7,158.1 413.6,162.5 413.5,163.5 C413.5,164.6 414.1,167.8 413.6,168.2Z" stroke-width="0.9" fill="none"/>
<path d="M404,160.5 C403.6,160.5 402.4,156.5 402.3,155.3 C402.2,154 402.6,148.9 403,148.3 C403.4,147.7 405.4,149.5 406.1,149.6 C406.9,149.8 410.1,149.4 410.1,150 C410.2,150.5 407.2,154.3 406.6,155.3 C406,156.4 404.5,160.5 404,160.5Z" stroke-width="0.9" fill="none"/>
<path d="M404,143.3 C403.8,142.9 405.5,137.4 406.1,136 C406.8,134.6 409.9,129.4 410.4,129.2 C410.9,128.9 410.8,132.7 411,133.5 C411.3,134.3 412.9,136.9 412.6,137.5 C412.3,138.2 408.9,139.5 408.1,140.1 C407.2,140.7 404.2,143.7 404,143.3Z" stroke-width="0.9" fill="none"/>
<path d="M413.6,124.7 C413.7,124.1 417.5,119.7 418.6,118.7 C419.7,117.8 424,115.1 424.3,115.3 C424.7,115.4 422.6,119.4 422.2,120.5 C421.9,121.6 421.2,125.9 420.7,126.4 C420.2,126.8 417.9,125.1 417.2,125 C416.5,124.8 413.4,125.3 413.6,124.7Z" stroke-width="0.9" fill="none"/>
<path d="M428.3,113.4 C428.7,112.9 432.8,111.6 433.8,111.6 C434.9,111.5 438.3,112.5 438.4,113.1 C438.4,113.6 435.3,116 434.5,116.8 C433.7,117.7 431,121.7 430.5,121.8 C430.1,121.8 430,117.8 429.7,117 C429.5,116.2 427.8,113.9 428.3,113.4Z" stroke-width="0.9" fill="none"/>
<path d="M441.2,114.7 C441.6,114.5 444.2,117 444.7,117.8 C445.2,118.7 446.2,123 445.9,123.6 C445.6,124.2 442.9,123.9 442.1,124.1 C441.2,124.3 437.8,126.2 437.5,125.8 C437.3,125.4 439.5,121 439.8,119.9 C440.2,118.8 440.7,114.9 441.2,114.7Z" stroke-width="0.9" fill="none"/>
<path d="M446.3,127.9 C446.6,128.2 446.4,133.2 446.1,134.6 C445.8,136 443.9,141.5 443.4,142 C443,142.4 441.9,139.5 441.4,139 C440.9,138.4 438.3,137.3 438.4,136.6 C438.6,136 442,133.3 442.8,132.4 C443.5,131.5 445.9,127.7 446.3,127.9Z" stroke-width="0.9" fill="none"/>
<ellipse cx="425.2" cy="140.7" rx="11.6" ry="19.9" transform="rotate(30 425.2 140.7)" stroke-width="0.8" stroke="#333"/>
<ellipse cx="426.7" cy="141.6" rx="10.9" ry="18.7" transform="rotate(30 426.7 141.6)" stroke-width="1.1"/>
<ellipse cx="427" cy="141.8" rx="9.3" ry="15.9" transform="rotate(30 427 141.8)" stroke-width="0.7" fill="none"/>
<ellipse cx="427.3" cy="142" rx="7.2" ry="12.3" transform="rotate(30 427.3 142)" stroke-width="0.9" fill="none"/>
<ellipse cx="427.6" cy="142.1" rx="3.9" ry="6.8" transform="rotate(30 427.6 142.1)" stroke-width="1.4" fill="none"/>
<path d="M423,260 C423,260.6 422.9,261.5 422.8,262 C422.7,262.6 422.4,263.4 422.2,263.9 C421.9,264.3 421.4,265 421.1,265.4 C420.7,265.7 420,266.3 419.6,266.5 C419.2,266.7 418.4,267 418,267.2 C417.5,267.3 416.7,267.5 416.3,267.6 C415.8,267.7 415.1,267.8 414.7,267.9 C414.3,268 413.7,268.2 413.4,268.5 C413.1,268.7 412.6,269.2 412.4,269.6 C412.1,270 411.8,270.8 411.6,271.4 C411.4,271.9 411,272.9 410.8,273.5 C410.6,274.1 410.2,275.2 409.9,275.8 C409.7,276.4 409.2,277.3 408.8,277.8 C408.5,278.3 408,279 407.6,279.4 C407.3,279.7 406.6,280.1 406.3,280.2 C405.9,280.3 405.3,280.4 404.9,280.3 C404.6,280.2 404,280 403.6,279.8 C403.3,279.6 402.8,279.1 402.5,278.9 C402.2,278.7 401.7,278.2 401.4,278.1 C401.1,277.9 400.7,277.6 400.4,277.6 C400.1,277.6 399.6,277.9 399.3,278.1 C399,278.4 398.4,279.1 398,279.5 C397.6,279.9 396.9,280.8 396.5,281.3 C396.1,281.7 395.4,282.6 395,283.1 C394.5,283.5 393.8,284.2 393.4,284.5 C393,284.8 392.3,285.2 392,285.2 C391.6,285.3 391.1,285.3 390.8,285.1 C390.5,285 390.1,284.5 390,284.2 C389.8,283.9 389.6,283.1 389.5,282.6 C389.4,282.2 389.3,281.2 389.2,280.8 C389.1,280.3 389,279.4 389,279 C388.9,278.6 388.7,278 388.6,277.7 C388.4,277.5 388,277.4 387.7,277.4 C387.4,277.5 386.7,277.8 386.3,277.9 C385.9,278.1 385.1,278.6 384.7,278.8 C384.2,279 383.3,279.4 382.9,279.6 C382.4,279.7 381.7,279.9 381.3,279.9 C380.9,279.9 380.4,279.8 380.1,279.6 C379.9,279.5 379.6,279 379.5,278.6 C379.4,278.3 379.4,277.4 379.5,276.9 C379.5,276.4 379.8,275.4 379.9,274.8 C380.1,274.2 380.4,273.1 380.6,272.6 C380.8,272 381.2,271 381.3,270.5 C381.5,269.9 381.7,269.1 381.7,268.8 C381.7,268.4 381.5,268 381.3,267.8 C381.1,267.6 380.6,267.4 380.3,267.2 C380,267.1 379.3,267 378.9,266.9 C378.6,266.8 377.9,266.6 377.6,266.4 C377.2,266.2 376.7,265.8 376.5,265.6 C376.2,265.3 376,264.7 375.9,264.3 C375.9,264 375.9,263.2 376,262.7 C376.1,262.3 376.5,261.4 376.8,260.9 C377.1,260.3 377.7,259.4 378,258.9 C378.4,258.3 379.1,257.4 379.5,256.9 C379.9,256.4 380.6,255.6 380.9,255.1 C381.2,254.7 381.7,253.9 381.9,253.5 C382.1,253.2 382.2,252.5 382.2,252.2 C382.2,251.8 381.9,251.2 381.8,250.8 C381.7,250.4 381.4,249.7 381.2,249.3 C381,248.9 380.7,248.2 380.6,247.7 C380.5,247.3 380.4,246.4 380.4,246 C380.4,245.5 380.5,244.7 380.6,244.2 C380.8,243.7 381.2,242.9 381.5,242.5 C381.7,242.1 382.4,241.4 382.8,241 C383.2,240.7 384,240.1 384.4,239.8 C384.9,239.5 385.8,239 386.2,238.8 C386.7,238.5 387.4,238.1 387.8,237.9 C388.2,237.6 388.9,237.2 389.2,236.9 C389.4,236.6 389.8,236 390,235.6 C390.1,235.2 390.3,234.3 390.4,233.8 C390.5,233.3 390.6,232.3 390.7,231.7 C390.8,231.1 391,230.1 391.2,229.5 C391.3,228.9 391.6,227.9 391.8,227.4 C392,226.9 392.5,226 392.8,225.6 C393.1,225.2 393.7,224.6 394.1,224.4 C394.4,224.2 395.1,223.9 395.5,223.8 C395.9,223.7 396.7,223.7 397.1,223.7 C397.5,223.7 398.2,223.9 398.6,223.9 C398.9,224 399.6,224.2 399.9,224.2 C400.3,224.2 400.8,224.3 401.1,224.1 C401.5,224 401.9,223.6 402.2,223.3 C402.5,223 403,222.2 403.3,221.7 C403.6,221.2 404.2,220.2 404.5,219.6 C404.8,219.1 405.4,218 405.8,217.5 C406.1,217 406.8,216.1 407.1,215.7 C407.5,215.3 408.2,214.7 408.5,214.5 C408.9,214.3 409.5,214.1 409.8,214.1 C410.2,214.1 410.7,214.4 411,214.6 C411.3,214.8 411.7,215.3 411.9,215.7 C412.1,216 412.5,216.7 412.7,217.1 C412.9,217.4 413.1,218.1 413.3,218.4 C413.5,218.7 413.8,219.2 414.1,219.3 C414.3,219.4 414.8,219.3 415.1,219.2 C415.4,219.1 416.1,218.6 416.5,218.2 C416.9,217.9 417.7,217.2 418.1,216.9 C418.6,216.5 419.4,215.8 419.9,215.5 C420.3,215.2 421.1,214.8 421.5,214.6 C421.9,214.4 422.6,214.3 422.9,214.4 C423.2,214.4 423.6,214.7 423.8,214.9 C424,215.2 424.2,215.9 424.2,216.3 C424.3,216.7 424.3,217.7 424.3,218.2 C424.2,218.8 424.1,219.8 424,220.4 C424,220.9 423.8,221.9 423.8,222.4 C423.8,222.9 423.7,223.6 423.8,223.9 C423.9,224.2 424.2,224.5 424.4,224.6 C424.7,224.7 425.3,224.6 425.7,224.6 C426.1,224.6 426.9,224.4 427.3,224.4 C427.7,224.3 428.5,224.2 428.9,224.2 C429.3,224.2 430,224.3 430.3,224.5 C430.6,224.6 431.1,225 431.2,225.2 C431.4,225.5 431.5,226.2 431.5,226.6 C431.5,227 431.3,227.9 431.1,228.5 C430.9,229 430.5,230 430.2,230.6 C429.9,231.2 429.4,232.2 429.1,232.8 C428.8,233.4 428.2,234.3 428,234.8 C427.8,235.3 427.4,236.1 427.3,236.5 C427.2,236.9 427.2,237.5 427.3,237.8 C427.4,238.1 427.8,238.5 428.1,238.8 C428.3,239 428.8,239.4 429.1,239.7 C429.4,240 429.9,240.5 430.1,240.8 C430.3,241.1 430.7,241.8 430.8,242.1 C430.9,242.5 431,243.3 431,243.7 C430.9,244.1 430.7,245 430.5,245.4 C430.3,245.9 429.7,246.7 429.4,247.2 C429,247.6 428.3,248.4 427.9,248.9 C427.4,249.3 426.6,250 426.2,250.4 C425.7,250.8 425,251.4 424.6,251.8 C424.2,252.2 423.6,252.8 423.4,253.1 C423.2,253.5 422.9,254.1 422.8,254.6 C422.8,255 422.8,255.7 422.8,256.2 C422.8,256.7 422.9,257.5 422.9,258 C423,258.6 423,259.5 423,260Z" stroke="none"/>
<path d="M390.8,285.1 C390.7,285 390.1,284.5 390,284.2 C389.8,283.9 389.6,283.1 389.5,282.6 C389.4,282.2 389.3,281.2 389.2,280.8 C389.1,280.3 389,279.4 389,279 C388.9,278.6 388.7,278 388.6,277.7 C388.4,277.5 388,277.4 387.7,277.4 C387.4,277.5 386.7,277.8 386.3,277.9 C385.9,278.1 385.1,278.6 384.7,278.8 C384.2,279 383.3,279.4 382.9,279.6 C382.4,279.7 381.7,279.9 381.3,279.9 C380.9,279.9 380.4,279.8 380.1,279.6 C379.9,279.5 379.6,279 379.5,278.6 C379.4,278.3 379.4,277.4 379.5,276.9 C379.5,276.4 379.8,275.4 379.9,274.8 C380.1,274.2 380.4,273.1 380.6,272.6 C380.8,272 381.2,271 381.3,270.5 C381.5,269.9 381.7,269.1 381.7,268.8 C381.7,268.4 381.5,268 381.3,267.8 C381.1,267.6 380.6,267.4 380.3,267.2 C380,267.1 379.3,267 378.9,266.9 C378.6,266.8 377.9,266.6 377.6,266.4 C377.2,266.2 376.7,265.8 376.5,265.6 C376.2,265.3 376,264.7 375.9,264.3 C375.9,264 375.9,263.2 376,262.7 C376.1,262.3 376.5,261.4 376.8,260.9 C377.1,260.3 377.7,259.4 378,258.9 C378.4,258.3 379.1,257.4 379.5,256.9 C379.9,256.4 380.6,255.6 380.9,255.1 C381.2,254.7 381.7,253.9 381.9,253.5 C382.1,253.2 382.2,252.5 382.2,252.2 C382.2,251.8 381.9,251.2 381.8,250.8 C381.7,250.4 381.4,249.7 381.2,249.3 C381,248.9 380.7,248.2 380.6,247.7 C380.5,247.3 380.4,246.4 380.4,246 C380.4,245.5 380.5,244.7 380.6,244.2 C380.8,243.7 381.2,242.9 381.5,242.5 C381.7,242.1 382.4,241.4 382.8,241 C383.2,240.7 384,240.1 384.4,239.8 C384.9,239.5 385.8,239 386.2,238.8 C386.7,238.5 387.4,238.1 387.8,237.9 C388.2,237.6 388.9,237.2 389.2,236.9 C389.4,236.6 389.8,236 390,235.6 C390.1,235.2 390.3,234.3 390.4,233.8 C390.5,233.3 390.6,232.3 390.7,231.7 C390.8,231.1 391,230.1 391.2,229.5 C391.3,228.9 391.6,227.9 391.8,227.4 C392,226.9 392.5,226 392.8,225.6 C393.1,225.2 393.7,224.6 394.1,224.4 C394.4,224.2 395.1,223.9 395.5,223.8 C395.9,223.7 396.7,223.7 397.1,223.7 C397.5,223.7 398.2,223.9 398.6,223.9 C398.9,224 399.6,224.2 399.9,224.2 C400.3,224.2 400.8,224.3 401.1,224.1 C401.5,224 401.9,223.6 402.2,223.3 C402.5,223 403,222.2 403.3,221.7 C403.6,221.2 404.2,220.2 404.5,219.6 C404.8,219.1 405.4,218 405.8,217.5 C406.1,217 406.8,216.1 407.1,215.7 C407.5,215.3 408.2,214.7 408.5,214.5 C408.9,214.3 409.5,214.1 409.8,214.1 C410.2,214.1 410.7,214.4 411,214.6 C411.3,214.8 411.7,215.3 411.9,215.7 C412.1,216 412.5,216.7 412.7,217.1 C412.9,217.4 413.1,218.1 413.3,218.4 C413.5,218.7 413.8,219.2 414.1,219.3 C414.3,219.4 414.8,219.3 415.1,219.2 C415.4,219.1 416.1,218.6 416.5,218.2 C416.9,217.9 417.7,217.2 418.1,216.9 C418.6,216.5 419.4,215.8 419.9,215.5 C420.3,215.2 421.1,214.8 421.5,214.6 C421.9,214.4 422.6,214.3 422.9,214.4 C423.2,214.4 423.6,214.7 423.8,214.9 C424,215.2 424.2,215.9 424.2,216.3 C424.3,216.7 424.3,217.7 424.3,218.2 C424.2,218.8 424.1,219.8 424,220.4 C424,220.9 423.8,221.9 423.8,222.4 C423.8,222.9 423.7,223.6 423.8,223.9 C423.9,224.2 424.4,224.5 424.4,224.6" fill="none"/>
<path d="M427.3,262.5 C427.3,263.1 427.2,264 427.1,264.5 C427,265.1 426.7,265.9 426.5,266.4 C426.3,266.8 425.7,267.5 425.4,267.9 C425.1,268.2 424.4,268.8 423.9,269 C423.5,269.2 422.7,269.5 422.3,269.7 C421.8,269.8 421,270 420.6,270.1 C420.1,270.2 419.4,270.3 419,270.4 C418.6,270.5 418,270.7 417.7,271 C417.4,271.2 416.9,271.7 416.7,272.1 C416.5,272.5 416.1,273.3 415.9,273.9 C415.7,274.4 415.4,275.4 415.1,276 C414.9,276.6 414.5,277.7 414.2,278.3 C414,278.9 413.5,279.8 413.2,280.3 C412.9,280.8 412.3,281.5 411.9,281.9 C411.6,282.2 411,282.6 410.6,282.7 C410.3,282.8 409.6,282.9 409.3,282.8 C408.9,282.7 408.3,282.5 408,282.3 C407.6,282.1 407.1,281.6 406.8,281.4 C406.5,281.2 406,280.7 405.7,280.6 C405.5,280.4 405,280.1 404.7,280.1 C404.4,280.1 403.9,280.4 403.6,280.6 C403.3,280.9 402.7,281.6 402.3,282 C402,282.4 401.3,283.3 400.9,283.8 C400.5,284.2 399.7,285.1 399.3,285.6 C398.9,286 398.1,286.7 397.7,287 C397.3,287.3 396.6,287.7 396.3,287.7 C395.9,287.8 395.4,287.8 395.1,287.6 C394.8,287.5 394.5,287 394.3,286.7 C394.1,286.4 393.9,285.6 393.8,285.1 C393.7,284.7 393.6,283.7 393.5,283.3 C393.5,282.8 393.4,281.9 393.3,281.5 C393.2,281.1 393.1,280.5 392.9,280.2 C392.7,280 392.3,279.9 392,279.9 C391.7,280 391.1,280.3 390.7,280.4 C390.3,280.6 389.4,281.1 389,281.3 C388.5,281.5 387.7,281.9 387.2,282.1 C386.8,282.2 386,282.4 385.6,282.4 C385.3,282.4 384.7,282.3 384.5,282.1 C384.2,282 383.9,281.5 383.8,281.1 C383.8,280.8 383.7,279.9 383.8,279.4 C383.9,278.9 384.1,277.9 384.2,277.3 C384.4,276.7 384.8,275.6 385,275.1 C385.2,274.5 385.5,273.5 385.7,273 C385.8,272.4 386,271.6 386,271.3 C386,270.9 385.8,270.5 385.7,270.3 C385.5,270.1 384.9,269.9 384.6,269.7 C384.3,269.6 383.6,269.5 383.3,269.4 C382.9,269.3 382.2,269.1 381.9,268.9 C381.6,268.7 381,268.3 380.8,268.1 C380.6,267.8 380.3,267.2 380.2,266.8 C380.2,266.5 380.2,265.7 380.4,265.2 C380.5,264.8 380.9,263.9 381.1,263.4 C381.4,262.8 382,261.9 382.4,261.4 C382.7,260.8 383.5,259.9 383.9,259.4 C384.2,258.9 384.9,258.1 385.2,257.6 C385.6,257.2 386.1,256.4 386.2,256 C386.4,255.7 386.5,255 386.5,254.7 C386.5,254.3 386.3,253.7 386.1,253.3 C386,252.9 385.7,252.2 385.5,251.8 C385.4,251.4 385.1,250.7 385,250.2 C384.9,249.8 384.7,248.9 384.7,248.5 C384.7,248 384.8,247.2 385,246.7 C385.1,246.2 385.5,245.4 385.8,245 C386.1,244.6 386.7,243.9 387.1,243.5 C387.5,243.2 388.3,242.6 388.8,242.3 C389.2,242 390.1,241.5 390.5,241.3 C391,241 391.8,240.6 392.2,240.4 C392.6,240.1 393.2,239.7 393.5,239.4 C393.8,239.1 394.1,238.5 394.3,238.1 C394.5,237.7 394.6,236.8 394.7,236.3 C394.8,235.8 395,234.8 395.1,234.2 C395.2,233.6 395.3,232.6 395.5,232 C395.6,231.4 395.9,230.4 396.2,229.9 C396.4,229.4 396.8,228.5 397.1,228.1 C397.4,227.7 398,227.1 398.4,226.9 C398.8,226.7 399.5,226.4 399.9,226.3 C400.3,226.2 401,226.2 401.4,226.2 C401.8,226.2 402.5,226.4 402.9,226.4 C403.3,226.5 403.9,226.7 404.3,226.7 C404.6,226.7 405.2,226.8 405.5,226.6 C405.8,226.5 406.3,226.1 406.6,225.8 C406.9,225.5 407.3,224.7 407.6,224.2 C407.9,223.7 408.5,222.7 408.8,222.1 C409.1,221.6 409.7,220.5 410.1,220 C410.5,219.5 411.1,218.6 411.5,218.2 C411.8,217.8 412.5,217.2 412.9,217 C413.2,216.8 413.8,216.6 414.2,216.6 C414.5,216.6 415,216.9 415.3,217.1 C415.6,217.3 416,217.8 416.2,218.2 C416.5,218.5 416.8,219.2 417,219.6 C417.2,219.9 417.5,220.6 417.7,220.9 C417.8,221.2 418.2,221.7 418.4,221.8 C418.6,221.9 419.1,221.8 419.4,221.7 C419.7,221.6 420.4,221.1 420.8,220.7 C421.2,220.4 422,219.7 422.4,219.4 C422.9,219 423.7,218.3 424.2,218 C424.6,217.7 425.4,217.3 425.8,217.1 C426.2,216.9 426.9,216.8 427.2,216.9 C427.5,216.9 427.9,217.2 428.1,217.4 C428.3,217.7 428.5,218.4 428.6,218.8 C428.6,219.2 428.6,220.2 428.6,220.7 C428.6,221.3 428.4,222.3 428.4,222.9 C428.3,223.4 428.2,224.4 428.1,224.9 C428.1,225.4 428,226.1 428.1,226.4 C428.2,226.7 428.5,227 428.8,227.1 C429,227.2 429.7,227.1 430,227.1 C430.4,227.1 431.2,226.9 431.6,226.9 C432,226.8 432.8,226.7 433.3,226.7 C433.7,226.7 434.3,226.8 434.6,227 C434.9,227.1 435.4,227.5 435.5,227.7 C435.7,228 435.8,228.7 435.8,229.1 C435.8,229.5 435.6,230.4 435.4,231 C435.3,231.5 434.8,232.5 434.5,233.1 C434.3,233.7 433.7,234.7 433.4,235.3 C433.1,235.9 432.6,236.8 432.3,237.3 C432.1,237.8 431.7,238.6 431.6,239 C431.5,239.4 431.6,240 431.7,240.3 C431.8,240.6 432.2,241 432.4,241.3 C432.6,241.5 433.1,241.9 433.4,242.2 C433.7,242.5 434.2,243 434.4,243.3 C434.7,243.6 435,244.3 435.1,244.6 C435.2,245 435.3,245.8 435.3,246.2 C435.2,246.6 435,247.5 434.8,247.9 C434.6,248.4 434.1,249.2 433.7,249.7 C433.4,250.1 432.6,250.9 432.2,251.4 C431.8,251.8 430.9,252.5 430.5,252.9 C430.1,253.3 429.3,253.9 428.9,254.3 C428.6,254.7 428,255.3 427.7,255.6 C427.5,256 427.2,256.6 427.2,257.1 C427.1,257.5 427.1,258.2 427.1,258.7 C427.1,259.2 427.2,260 427.3,260.5 C427.3,261.1 427.4,262 427.3,262.5Z"/>
<ellipse cx="408.4" cy="251.6" rx="18.1" ry="30.9" transform="rotate(30 408.4 251.6)" stroke-width="0.8" stroke="#333" fill="none"/>
<ellipse cx="409.4" cy="252.2" rx="10.9" ry="18.6" transform="rotate(30 409.4 252.2)" stroke-width="0.8" stroke="#333"/>
<ellipse cx="410.6" cy="252.9" rx="10.4" ry="17.8" transform="rotate(30 410.6 252.9)" stroke-width="1.1"/>
<ellipse cx="410.9" cy="253.1" rx="8.7" ry="14.9" transform="rotate(30 410.9 253.1)" stroke-width="0.8" fill="none"/>
<ellipse cx="411.1" cy="253.2" rx="3.4" ry="5.7" transform="rotate(30 411.1 253.2)" stroke-width="1.2" fill="none"/>
<path d="M406.8,277.8 L405.4,274.2 L403.7,276.4 L402.6,274.9 L399.6,279.8" stroke-width="0.9" fill="none"/>
<path d="M386.5,262.1 L390.3,258.2 L389.2,256.9 L391,254.7 L388.2,252.7" stroke-width="0.9" fill="none"/>
<path d="M410,225.4 L411.4,229 L413.1,226.8 L414.2,228.3 L417.2,223.4" stroke-width="0.9" fill="none"/>
<path d="M430.3,241.1 L426.5,245 L427.6,246.3 L425.8,248.5 L428.6,250.5" stroke-width="0.9" fill="none"/>
<ellipse cx="226.4" cy="26.3" rx="4.4" ry="7.8" transform="rotate(31 226.4 26.3)"/>
<path d="M231.3,21.7 C231.5,22.1 231.8,23.3 232.2,23.9 C232.5,24.6 233.3,25.4 233.5,25.7 L237.5,27.8 L239.2,27.9 L248.4,32.8 C248.5,32.9 248.9,33.2 249,33.4 C249.2,33.7 249.3,34.1 249.3,34.5 C249.3,34.9 249.3,35.3 249.2,35.8 C249.1,36.3 248.9,36.8 248.7,37.3 C248.5,37.7 248.3,38.2 248,38.7 C247.7,39.1 247.4,39.5 247,39.9 C246.7,40.2 246.3,40.5 246,40.7 C245.6,40.9 245.3,41 245,41.1 C244.7,41.1 244.2,40.9 244.1,40.9 L234.8,36 L233.8,34.7 L229.9,32.6 C229.5,32.5 228.4,32.3 227.7,32.4 C226.9,32.5 225.7,32.9 225.3,33 L231.3,21.7Z"/>
<path d="M232,23 C232,23.2 232.3,23.6 232.3,23.9 C232.3,24.3 232.3,24.8 232.2,25.3 C232.1,25.8 232,26.4 231.8,27 C231.6,27.6 231.3,28.2 231,28.7 C230.7,29.3 230.3,29.9 230,30.4 C229.6,30.9 229.2,31.3 228.8,31.7 C228.5,32 228.1,32.3 227.7,32.5 C227.4,32.7 227,32.7 226.8,32.8" stroke-width="0.7" fill="none"/>
<path d="M234,25.9 C234.1,26 234.4,26.3 234.5,26.5 C234.6,26.8 234.7,27.2 234.7,27.6 C234.7,28 234.6,28.4 234.5,28.9 C234.3,29.4 234.1,29.9 233.9,30.3 C233.7,30.7 233.4,31.2 233.1,31.5 C232.8,31.9 232.4,32.2 232.1,32.5 C231.8,32.7 231.4,32.8 231.1,32.9 C230.8,32.9 230.4,32.8 230.3,32.8" stroke-width="0.7" fill="none"/>
<path d="M235.7,26.8 C235.8,27 236.2,27.2 236.3,27.5 C236.4,27.7 236.5,28.1 236.4,28.5 C236.4,28.9 236.4,29.4 236.2,29.8 C236.1,30.3 235.9,30.8 235.7,31.2 C235.4,31.7 235.1,32.1 234.8,32.5 C234.5,32.8 234.2,33.2 233.9,33.4 C233.5,33.6 233.2,33.8 232.9,33.8 C232.6,33.9 232.2,33.8 232.1,33.7" stroke-width="0.7" fill="none"/>
<path d="M240,28.3 C240.1,28.5 240.5,28.7 240.7,29.1 C240.8,29.4 240.9,29.8 240.8,30.3 C240.8,30.8 240.7,31.3 240.6,31.8 C240.4,32.4 240.2,33 239.9,33.5 C239.6,34 239.3,34.5 238.9,35 C238.6,35.4 238.2,35.8 237.8,36 C237.4,36.3 237,36.5 236.7,36.6 C236.3,36.6 235.9,36.5 235.7,36.5" stroke-width="0.8" fill="none"/>
<path d="M241.6,29.2 C241.7,29.3 242.1,29.6 242.2,29.9 C242.4,30.2 242.4,30.7 242.4,31.1 C242.4,31.6 242.3,32.2 242.2,32.7 C242,33.2 241.8,33.8 241.5,34.3 C241.2,34.8 240.9,35.4 240.5,35.8 C240.2,36.2 239.8,36.6 239.4,36.9 C239,37.2 238.6,37.3 238.2,37.4 C237.9,37.5 237.5,37.3 237.3,37.3" stroke-width="0.8" fill="none"/>
<path d="M243.2,30 C243.3,30.2 243.7,30.4 243.8,30.8 C244,31.1 244,31.5 244,32 C244,32.4 243.9,33 243.8,33.5 C243.6,34.1 243.4,34.7 243.1,35.2 C242.8,35.7 242.5,36.2 242.1,36.6 C241.8,37.1 241.3,37.5 241,37.7 C240.6,38 240.2,38.2 239.8,38.3 C239.5,38.3 239.1,38.2 238.9,38.2" stroke-width="0.8" fill="none"/>
<path d="M244.8,30.9 C244.9,31 245.3,31.3 245.4,31.6 C245.6,31.9 245.6,32.4 245.6,32.8 C245.6,33.3 245.5,33.9 245.3,34.4 C245.2,34.9 245,35.5 244.7,36 C244.4,36.5 244,37.1 243.7,37.5 C243.3,37.9 242.9,38.3 242.6,38.6 C242.2,38.8 241.8,39 241.4,39.1 C241.1,39.2 240.6,39 240.5,39" stroke-width="0.8" fill="none"/>
<path d="M246.4,31.7 C246.5,31.8 246.9,32.1 247,32.4 C247.1,32.8 247.2,33.2 247.2,33.7 C247.2,34.1 247.1,34.7 246.9,35.2 C246.8,35.8 246.5,36.3 246.3,36.9 C246,37.4 245.6,37.9 245.3,38.3 C244.9,38.8 244.5,39.1 244.1,39.4 C243.8,39.7 243.4,39.9 243,39.9 C242.7,40 242.2,39.9 242.1,39.8" stroke-width="0.8" fill="none"/>
<path d="M244.1,40.9 C244,40.8 243.7,40.6 243.6,40.4 C243.4,40.1 243.3,39.8 243.3,39.5 C243.2,39.1 243.2,38.7 243.3,38.3 C243.3,37.9 243.4,37.5 243.6,37 C243.7,36.6 243.9,36.2 244.1,35.7 C244.4,35.3 244.6,34.9 244.9,34.5 C245.2,34.2 245.5,33.8 245.8,33.6 C246.1,33.3 246.5,33.1 246.8,32.9 C247.1,32.8 247.4,32.7 247.7,32.7 C247.9,32.6 248.3,32.8 248.4,32.8" stroke-width="0.8" fill="none"/>
<path d="M238,161.2 C237.6,161 236.2,160.6 235.6,160 C235,159.4 234.6,158.6 234.6,157.5 C234.6,156.4 234.7,154.7 235.4,153.3 C236.1,152 237.5,150.2 238.6,149.4 C239.7,148.6 241,148.2 242,148.3 C243,148.4 244,149.1 244.6,149.8 C245.2,150.5 245.4,151.6 245.3,152.4 C245.2,153.2 244.4,154.2 244.2,154.6" stroke="#0b5a1c" stroke-width="1.7" fill="none"/>
<path d="M238,161.2 C238.2,160.9 239.2,160.1 239.2,159.4 C239.2,158.7 238.4,157.8 238.2,157 C238,156.2 237.8,155.4 238,154.6 C238.2,153.8 238.9,152.8 239.6,152.2 C240.3,151.6 241.8,151.4 242.2,151.2" stroke="#0b5a1c" stroke-width="1.4" fill="none"/>
<path d="M240.6,155.2 L242.2,155.8" stroke="#0b5a1c" stroke-width="0.9" fill="none"/>
<path d="M609.4,373.9 L605.7,368.3 L600.5,365.3 L600.1,366 L591.4,361 L591.4,361 L591,360.4 L590.8,359.5 L590.9,358.4 L591.4,357.1 L592.1,355.9 L592.9,354.9 L593.9,354.2 L594.7,353.9 L595.4,354 L595.4,354 L604.1,359 L603.7,359.7 L608.9,362.7 L615.6,363.1Z" stroke="#0c5a1c" fill="#8fdc8a" stroke-width="1.2"/>
<ellipse cx="612.5" cy="368.5" rx="3.6" ry="7" transform="rotate(30 612.5 368.5)" stroke="#0c5a1c" fill="#8fdc8a" stroke-width="1.2"/>
<ellipse cx="612.8" cy="368.7" rx="1.4" ry="2.4" transform="rotate(30 612.8 368.7)" stroke="#0c5a1c" fill="#c8f0c4" stroke-width="0.8"/>
<path d="M603.2,358.5 C603.3,358.6 603.6,358.9 603.8,359.2 C603.9,359.5 603.9,359.9 603.9,360.3 C603.9,360.7 603.8,361.1 603.6,361.6 C603.5,362.1 603.2,362.6 603,363 C602.7,363.4 602.4,363.9 602.1,364.2 C601.8,364.6 601.4,364.9 601.1,365.2 C600.7,365.4 600.4,365.5 600.1,365.6 C599.8,365.6 599.4,365.5 599.2,365.5" stroke-width="0.9" stroke="#0c5a1c" fill="none"/>
<path d="M601.5,357.5 C601.6,357.6 601.9,357.9 602,358.2 C602.1,358.5 602.2,358.9 602.1,359.3 C602.1,359.7 602,360.1 601.9,360.6 C601.7,361.1 601.5,361.6 601.2,362 C601,362.4 600.7,362.9 600.3,363.2 C600,363.6 599.7,363.9 599.3,364.2 C599,364.4 598.6,364.5 598.3,364.6 C598,364.6 597.6,364.5 597.5,364.5" stroke-width="0.9" stroke="#0c5a1c" fill="none"/>
<path d="M599.8,356.5 C599.9,356.6 600.2,356.9 600.3,357.2 C600.4,357.5 600.4,357.9 600.4,358.3 C600.4,358.7 600.3,359.1 600.1,359.6 C600,360.1 599.8,360.6 599.5,361 C599.3,361.4 598.9,361.9 598.6,362.2 C598.3,362.6 597.9,362.9 597.6,363.2 C597.3,363.4 596.9,363.5 596.6,363.6 C596.3,363.6 595.9,363.5 595.8,363.5" stroke-width="0.9" stroke="#0c5a1c" fill="none"/>
<path d="M598,355.5 C598.1,355.6 598.4,355.9 598.6,356.2 C598.7,356.5 598.7,356.9 598.7,357.3 C598.7,357.7 598.6,358.1 598.4,358.6 C598.3,359.1 598,359.6 597.8,360 C597.5,360.4 597.2,360.9 596.9,361.2 C596.6,361.6 596.2,361.9 595.9,362.2 C595.5,362.4 595.2,362.5 594.9,362.6 C594.6,362.6 594.2,362.5 594,362.5" stroke-width="0.9" stroke="#0c5a1c" fill="none"/>
<path d="M596.3,354.5 C596.4,354.6 596.7,354.9 596.8,355.2 C596.9,355.5 597,355.9 597,356.3 C596.9,356.7 596.8,357.1 596.7,357.6 C596.5,358.1 596.3,358.6 596,359 C595.8,359.4 595.5,359.9 595.1,360.2 C594.8,360.6 594.5,360.9 594.1,361.2 C593.8,361.4 593.4,361.5 593.1,361.6 C592.8,361.6 592.4,361.5 592.3,361.5" stroke-width="0.9" stroke="#0c5a1c" fill="none"/>
<path d="M621.3,219.2 C621.7,219.1 622.5,218.8 623.3,218.7 C624.2,218.5 625.9,218.3 626.4,218.3 C626.7,218.5 627.8,219.4 628.3,220 C628.8,220.5 629.1,221.1 629.3,221.4 L631.3,221.8 L638.4,225.5 C638.5,225.6 638.9,225.9 639,226.2 C639.2,226.5 639.2,226.9 639.3,227.4 C639.3,227.8 639.2,228.4 639.1,228.9 C639,229.4 638.8,230 638.6,230.5 C638.4,231.1 638.1,231.6 637.8,232.1 C637.4,232.6 637.1,233.1 636.7,233.5 C636.3,233.9 635.9,234.2 635.5,234.4 C635.1,234.7 634.8,234.8 634.4,234.9 C634.1,234.9 633.6,234.7 633.5,234.7 L626.4,231 L624.9,229.5 C624.6,229.5 623.9,229.6 623.2,229.5 C622.5,229.4 621.2,229 620.7,228.8 C620.5,228.4 619.7,226.9 619.4,226.1 C619,225.3 618.8,224.5 618.7,224.1 L621.3,219.2Z" stroke-width="1.4"/>
<path d="M626.4,218.3 C626.5,218.4 626.9,218.7 627,219.1 C627.1,219.5 627.1,220 627.1,220.6 C627,221.2 626.8,221.9 626.6,222.6 C626.4,223.2 626,224 625.7,224.7 C625.3,225.4 624.9,226 624.4,226.6 C624,227.2 623.5,227.7 623.1,228.1 C622.6,228.5 622.2,228.7 621.8,228.9 C621.4,229 620.9,228.9 620.7,228.8" stroke-width="0.7" fill="none"/>
<path d="M629.3,221.4 C629.3,221.5 629.7,221.7 629.8,222.1 C630,222.4 630,222.8 630,223.3 C630,223.7 629.9,224.3 629.7,224.8 C629.6,225.4 629.3,225.9 629,226.5 C628.8,227 628.4,227.5 628.1,227.9 C627.7,228.4 627.3,228.8 626.9,229 C626.6,229.3 626.2,229.5 625.8,229.6 C625.5,229.7 625.1,229.5 624.9,229.5" stroke-width="0.7" fill="none"/>
<path d="M633.5,234.7 C633.4,234.6 632.9,234.3 632.8,233.9 C632.6,233.5 632.6,233 632.6,232.5 C632.6,232 632.7,231.4 632.9,230.8 C633,230.1 633.3,229.5 633.6,228.9 C633.9,228.3 634.3,227.7 634.7,227.2 C635.1,226.8 635.6,226.3 636,226 C636.5,225.7 636.9,225.5 637.3,225.4 C637.7,225.3 638.2,225.5 638.4,225.5" stroke-width="0.9" fill="none"/>
<path d="M621.6,220.8 L624.8,220.2 L622.6,224.2 L620.2,223.5Z" fill="#999" stroke="none"/>
<path d="M242.8,489.6 C243.2,489.5 244,489.2 244.8,489.1 C245.7,488.9 247.4,488.7 247.9,488.7 C248.2,488.9 249.3,489.8 249.8,490.4 C250.3,490.9 250.6,491.5 250.8,491.8 L252.8,492.2 L259.9,495.9 C260,496 260.4,496.3 260.5,496.6 C260.7,496.9 260.7,497.3 260.8,497.8 C260.8,498.2 260.7,498.8 260.6,499.3 C260.5,499.8 260.3,500.4 260.1,500.9 C259.9,501.5 259.6,502 259.3,502.5 C258.9,503 258.6,503.5 258.2,503.9 C257.8,504.3 257.4,504.6 257,504.8 C256.6,505.1 256.3,505.2 255.9,505.3 C255.6,505.3 255.1,505.1 255,505.1 L247.9,501.4 L246.4,499.9 C246.1,499.9 245.4,500 244.7,499.9 C244,499.8 242.7,499.4 242.2,499.2 C242,498.8 241.2,497.3 240.9,496.5 C240.5,495.7 240.3,494.9 240.2,494.5 L242.8,489.6Z" stroke-width="1.4"/>
<path d="M247.9,488.7 C248,488.8 248.4,489.1 248.5,489.5 C248.6,489.9 248.6,490.4 248.6,491 C248.5,491.6 248.3,492.3 248.1,493 C247.9,493.6 247.5,494.4 247.2,495.1 C246.8,495.8 246.4,496.4 245.9,497 C245.5,497.6 245,498.1 244.6,498.5 C244.1,498.9 243.7,499.1 243.3,499.3 C242.9,499.4 242.4,499.3 242.2,499.2" stroke-width="0.7" fill="none"/>
<path d="M250.8,491.8 C250.8,491.9 251.2,492.1 251.3,492.5 C251.5,492.8 251.5,493.2 251.5,493.7 C251.5,494.1 251.4,494.7 251.2,495.2 C251.1,495.8 250.8,496.3 250.5,496.9 C250.3,497.4 249.9,497.9 249.6,498.3 C249.2,498.8 248.8,499.2 248.4,499.4 C248.1,499.7 247.7,499.9 247.3,500 C247,500.1 246.6,499.9 246.4,499.9" stroke-width="0.7" fill="none"/>
<path d="M255,505.1 C254.9,505 254.4,504.7 254.3,504.3 C254.1,503.9 254.1,503.4 254.1,502.9 C254.1,502.4 254.2,501.8 254.4,501.2 C254.5,500.5 254.8,499.9 255.1,499.3 C255.4,498.7 255.8,498.1 256.2,497.6 C256.6,497.2 257.1,496.7 257.5,496.4 C258,496.1 258.4,495.9 258.8,495.8 C259.2,495.7 259.7,495.9 259.9,495.9" stroke-width="0.9" fill="none"/>
<path d="M243.1,491.2 L246.3,490.6 L244.1,494.6 L241.7,493.9Z" fill="#999" stroke="none"/>
<path d="M666,254.6 L668.8,256.2 L668.8,256.2 L670.8,257.8 L672.5,259.8 L673.7,262.3 L674.5,265.1 L674.8,268.2 L674.6,271.4 L673.9,274.8 L672.7,278.1 L671.1,281.3 L669.2,284.3 L666.9,286.9 L664.3,289.2 L661.6,291 L658.8,292.3 L655.9,293 L653.2,293.2 L650.6,292.8 L648.2,291.8 L648.2,291.8 L645.5,290.2 L645.5,290.2 L643.4,288.6 L641.8,286.6 L640.5,284.1 L639.7,281.3 L639.5,278.2 L639.7,275 L640.3,271.6 L641.5,268.3 L643.1,265.1 L645.1,262.1 L647.4,259.5 L649.9,257.2 L652.6,255.4 L655.5,254.1 L658.3,253.4 L661,253.2 L663.6,253.6 L666,254.6Z"/>
<ellipse cx="658.5" cy="274" rx="14.6" ry="20.5" transform="rotate(30 658.5 274)"/>
<ellipse cx="658.9" cy="274.2" rx="12" ry="17.5" transform="rotate(30 658.9 274.2)"/>
<path d="M667.3,259.5 C667.5,259.9 668.2,260.8 668.5,261.5 C668.9,262.3 669.1,263.1 669.3,264 C669.5,264.8 669.7,265.7 669.7,266.7 C669.7,267.6 669.7,268.6 669.6,269.6 C669.5,270.6 669.3,271.6 669,272.6 C668.7,273.7 668.4,274.7 668,275.7 C667.6,276.7 667.1,277.7 666.5,278.6 C666,279.5 665.4,280.5 664.7,281.3 C664.1,282.2 663.3,283 662.6,283.7 C661.9,284.5 661.1,285.1 660.3,285.7 C659.5,286.3 658.6,286.9 657.8,287.3 C657,287.7 656.1,288.1 655.3,288.4 C654.4,288.6 653.6,288.8 652.8,288.9 C651.9,288.9 650.8,288.8 650.4,288.8" stroke-width="0.8" fill="none"/>
<path d="M705.6,283.5 L727.6,297 L727.6,297 L729.2,298.2 L730.4,299.7 L731.4,301.7 L731.9,303.9 L732.1,306.3 L731.9,308.8 L731.4,311.5 L730.5,314.1 L729.2,316.6 L727.6,319 L725.8,321.1 L723.9,322.9 L721.7,324.3 L719.5,325.3 L717.3,325.9 L715.2,326.1 L713.2,325.8 L711.4,325 L711.4,325 L689.4,311.5 L689.4,311.5 L687.8,310.3 L686.6,308.8 L685.6,306.8 L685.1,304.6 L684.9,302.2 L685.1,299.7 L685.6,297 L686.5,294.4 L687.8,291.9 L689.4,289.5 L691.2,287.4 L693.1,285.6 L695.3,284.2 L697.5,283.2 L699.7,282.6 L701.8,282.4 L703.8,282.7 L705.6,283.5Z" stroke-width="1.2"/>
<path d="M691.3,312.7 C691,312.4 690.1,311.8 689.6,311.3 C689.1,310.7 688.7,310.1 688.4,309.4 C688,308.7 687.7,307.9 687.5,307.1 C687.3,306.3 687.2,305.5 687.1,304.6 C687,303.7 687.1,302.7 687.2,301.8 C687.2,300.9 687.4,299.9 687.7,298.9 C687.9,298 688.2,297 688.6,296 C689,295.1 689.5,294.1 690,293.2 C690.5,292.4 691.1,291.5 691.7,290.7 C692.3,289.9 693,289.1 693.7,288.4 C694.4,287.7 695.2,287.1 696,286.5 C696.7,286 697.6,285.5 698.3,285.1 C699.1,284.7 700,284.4 700.8,284.1 C701.6,283.9 702.4,283.8 703.2,283.8 C703.9,283.7 704.7,283.8 705.4,283.9 C706.1,284.1 707.1,284.5 707.5,284.6" stroke-width="0.85" fill="none"/>
<path d="M693.5,314 C693.2,313.8 692.3,313.2 691.8,312.6 C691.3,312.1 690.9,311.4 690.6,310.7 C690.2,310.1 689.9,309.3 689.7,308.5 C689.5,307.7 689.4,306.8 689.3,305.9 C689.2,305 689.3,304.1 689.4,303.1 C689.4,302.2 689.6,301.2 689.9,300.3 C690.1,299.3 690.4,298.3 690.8,297.4 C691.2,296.4 691.7,295.5 692.2,294.6 C692.7,293.7 693.3,292.8 693.9,292 C694.5,291.2 695.2,290.4 695.9,289.8 C696.6,289.1 697.4,288.4 698.2,287.9 C698.9,287.3 699.8,286.8 700.5,286.4 C701.3,286 702.2,285.7 703,285.5 C703.8,285.3 704.6,285.1 705.4,285.1 C706.1,285.1 706.9,285.1 707.6,285.3 C708.3,285.4 709.3,285.9 709.7,286" stroke-width="0.85" fill="none"/>
<path d="M695.7,315.4 C695.4,315.1 694.5,314.5 694,314 C693.5,313.4 693.1,312.8 692.8,312.1 C692.4,311.4 692.1,310.6 691.9,309.8 C691.7,309 691.6,308.2 691.5,307.3 C691.4,306.4 691.5,305.4 691.6,304.5 C691.6,303.6 691.8,302.6 692.1,301.6 C692.3,300.7 692.6,299.7 693,298.7 C693.4,297.8 693.9,296.8 694.4,295.9 C694.9,295.1 695.5,294.2 696.1,293.4 C696.7,292.6 697.4,291.8 698.1,291.1 C698.8,290.4 699.6,289.8 700.4,289.2 C701.1,288.7 702,288.2 702.7,287.8 C703.5,287.4 704.4,287.1 705.2,286.8 C706,286.6 706.8,286.5 707.6,286.5 C708.3,286.4 709.1,286.5 709.8,286.6 C710.5,286.8 711.5,287.2 711.9,287.3" stroke-width="0.85" fill="none"/>
<path d="M697.9,316.7 C697.6,316.5 696.7,315.9 696.2,315.3 C695.7,314.8 695.3,314.1 695,313.4 C694.6,312.8 694.3,312 694.1,311.2 C693.9,310.4 693.8,309.5 693.7,308.6 C693.6,307.7 693.7,306.8 693.8,305.8 C693.8,304.9 694,303.9 694.3,303 C694.5,302 694.8,301 695.2,300.1 C695.6,299.1 696.1,298.2 696.6,297.3 C697.1,296.4 697.7,295.5 698.3,294.7 C698.9,293.9 699.6,293.1 700.3,292.5 C701,291.8 701.8,291.1 702.6,290.6 C703.3,290 704.2,289.5 704.9,289.1 C705.7,288.7 706.6,288.4 707.4,288.2 C708.2,288 709,287.8 709.8,287.8 C710.5,287.8 711.3,287.8 712,288 C712.7,288.1 713.7,288.6 714.1,288.7" stroke-width="0.85" fill="none"/>
<path d="M700.1,318.1 C699.8,317.8 698.9,317.2 698.4,316.7 C697.9,316.1 697.5,315.5 697.2,314.8 C696.8,314.1 696.5,313.3 696.3,312.5 C696.1,311.7 696,310.9 695.9,310 C695.8,309.1 695.9,308.1 696,307.2 C696,306.3 696.2,305.3 696.5,304.3 C696.7,303.4 697,302.4 697.4,301.4 C697.8,300.5 698.3,299.5 698.8,298.6 C699.3,297.8 699.9,296.9 700.5,296.1 C701.1,295.3 701.8,294.5 702.5,293.8 C703.2,293.1 704,292.5 704.8,291.9 C705.5,291.4 706.4,290.9 707.1,290.5 C707.9,290.1 708.8,289.8 709.6,289.5 C710.4,289.3 711.2,289.2 712,289.2 C712.7,289.1 713.5,289.2 714.2,289.3 C714.9,289.5 715.9,289.9 716.3,290" stroke-width="0.85" fill="none"/>
<path d="M702.3,319.4 C702,319.2 701.1,318.6 700.6,318 C700.1,317.5 699.7,316.8 699.4,316.1 C699,315.5 698.7,314.7 698.5,313.9 C698.3,313.1 698.2,312.2 698.1,311.3 C698,310.4 698.1,309.5 698.2,308.5 C698.2,307.6 698.4,306.6 698.7,305.7 C698.9,304.7 699.2,303.7 699.6,302.8 C700,301.8 700.5,300.9 701,300 C701.5,299.1 702.1,298.2 702.7,297.4 C703.3,296.6 704,295.8 704.7,295.2 C705.4,294.5 706.2,293.8 707,293.3 C707.7,292.7 708.6,292.2 709.3,291.8 C710.1,291.4 711,291.1 711.8,290.9 C712.6,290.7 713.4,290.5 714.2,290.5 C714.9,290.5 715.7,290.5 716.4,290.7 C717.1,290.8 718.1,291.3 718.5,291.4" stroke-width="0.85" fill="none"/>
<path d="M704.5,320.8 C704.2,320.5 703.3,319.9 702.8,319.4 C702.3,318.8 701.9,318.2 701.6,317.5 C701.2,316.8 700.9,316 700.7,315.2 C700.5,314.4 700.4,313.6 700.3,312.7 C700.2,311.8 700.3,310.8 700.4,309.9 C700.4,309 700.6,308 700.9,307 C701.1,306.1 701.4,305.1 701.8,304.1 C702.2,303.2 702.7,302.2 703.2,301.3 C703.7,300.5 704.3,299.6 704.9,298.8 C705.5,298 706.2,297.2 706.9,296.5 C707.6,295.8 708.4,295.2 709.2,294.6 C709.9,294.1 710.8,293.6 711.5,293.2 C712.3,292.8 713.2,292.5 714,292.2 C714.8,292 715.6,291.9 716.4,291.9 C717.1,291.8 717.9,291.9 718.6,292 C719.3,292.2 720.3,292.6 720.7,292.7" stroke-width="0.85" fill="none"/>
<path d="M706.7,322.1 C706.4,321.9 705.5,321.3 705,320.7 C704.5,320.2 704.1,319.5 703.8,318.8 C703.4,318.2 703.1,317.4 702.9,316.6 C702.7,315.8 702.6,314.9 702.5,314 C702.4,313.1 702.5,312.2 702.6,311.2 C702.6,310.3 702.8,309.3 703.1,308.4 C703.3,307.4 703.6,306.4 704,305.5 C704.4,304.5 704.9,303.6 705.4,302.7 C705.9,301.8 706.5,300.9 707.1,300.1 C707.7,299.3 708.4,298.5 709.1,297.9 C709.8,297.2 710.6,296.5 711.4,296 C712.1,295.4 713,294.9 713.7,294.5 C714.5,294.1 715.4,293.8 716.2,293.6 C717,293.4 717.8,293.2 718.6,293.2 C719.3,293.2 720.1,293.2 720.8,293.4 C721.5,293.5 722.5,294 722.9,294.1" stroke-width="0.85" fill="none"/>
<path d="M708.9,323.5 C708.6,323.2 707.7,322.6 707.2,322.1 C706.7,321.5 706.3,320.9 706,320.2 C705.6,319.5 705.3,318.7 705.1,317.9 C704.9,317.1 704.8,316.3 704.7,315.4 C704.6,314.5 704.7,313.5 704.8,312.6 C704.8,311.7 705,310.7 705.3,309.7 C705.5,308.8 705.8,307.8 706.2,306.8 C706.6,305.9 707.1,304.9 707.6,304 C708.1,303.2 708.7,302.3 709.3,301.5 C709.9,300.7 710.6,299.9 711.3,299.2 C712,298.5 712.8,297.9 713.6,297.3 C714.3,296.8 715.2,296.3 715.9,295.9 C716.7,295.5 717.6,295.2 718.4,294.9 C719.2,294.7 720,294.6 720.8,294.6 C721.5,294.5 722.3,294.6 723,294.7 C723.7,294.9 724.7,295.3 725.1,295.4" stroke-width="0.85" fill="none"/>
<path d="M711.1,324.8 C710.8,324.6 709.9,324 709.4,323.4 C708.9,322.9 708.5,322.2 708.2,321.5 C707.8,320.9 707.5,320.1 707.3,319.3 C707.1,318.5 707,317.6 706.9,316.7 C706.8,315.8 706.9,314.9 707,313.9 C707,313 707.2,312 707.5,311.1 C707.7,310.1 708,309.1 708.4,308.2 C708.8,307.2 709.3,306.3 709.8,305.4 C710.3,304.5 710.9,303.6 711.5,302.8 C712.1,302 712.8,301.2 713.5,300.6 C714.2,299.9 715,299.2 715.8,298.7 C716.5,298.1 717.4,297.6 718.1,297.2 C718.9,296.8 719.8,296.5 720.6,296.3 C721.4,296.1 722.2,295.9 723,295.9 C723.7,295.9 724.5,295.9 725.2,296.1 C725.9,296.2 726.9,296.7 727.3,296.8" stroke-width="0.85" fill="none"/>
<ellipse cx="719.5" cy="311" rx="11.2" ry="16.2" transform="rotate(30 719.5 311)" stroke-width="1.1"/>
<ellipse cx="719.3" cy="310.9" rx="9.6" ry="13.9" transform="rotate(30 719.3 310.9)" stroke-width="0.75" fill="none"/>
<ellipse cx="719.1" cy="310.8" rx="8.1" ry="11.7" transform="rotate(30 719.1 310.8)" stroke-width="0.75" fill="none"/>
<ellipse cx="718.9" cy="310.7" rx="6.5" ry="9.4" transform="rotate(30 718.9 310.7)" stroke-width="0.75" fill="none"/>
<path d="M715.4,312.1 L713.6,319.2" stroke-width="0.9" fill="none"/>
<path d="M715.3,306.3 L710.7,315.2" stroke-width="0.9" fill="none"/>
<path d="M640.7,440.6 C640.7,439.7 640.4,436.6 640.7,434.9 C641,433.2 641,432.9 642.6,430.4 C644.2,427.8 647.5,423.2 650.2,419.6 C652.9,416 656.7,411.6 659,408.9 C661.3,406.2 661,405.7 664,403.5 C667,401.3 672.6,398 676.9,395.5 C681.2,393 687.3,390.1 689.6,388.6 C691.9,387.1 690.6,386.9 690.8,386.6 L687.7,382.8 C688.7,382.4 691.6,381.7 693.4,380.3 C695.2,378.9 696.4,376.6 698.5,374.6 C700.6,372.6 703,369.8 706,368.2 C709,366.6 713.7,365.7 716.2,365.3 C718.8,364.9 719.8,365.1 721.3,365.6 C722.8,366.1 724.1,367.4 725,368.5 C725.9,369.6 726.2,371.4 726.5,372 C728.2,371.8 733.1,370.8 736.7,370.5 C740.3,370.2 745,370.6 748,370.3 C751,370 753.3,369.5 755,368.5 C756.7,367.5 756.8,365.8 758,364.5 C759.2,363.2 760.6,362.2 762,361 C763.4,359.8 765.3,358.3 766.3,357 C767.3,355.7 767.7,353.7 768,353 L767.8,339 C769.1,338.2 772.4,335.7 775.4,334 C778.4,332.3 782.3,330 785.5,328.9 C788.7,327.8 791.9,327.3 794.4,327.6 C796.9,327.9 798,329.1 800.8,330.8 C803.6,332.5 807.6,335.8 811,337.8 C814.4,339.8 818.5,341.2 821,342.8 C823.5,344.4 824.8,345.4 826.2,347.3 C827.6,349.2 828.6,351.7 829.3,354.3 C830,356.9 830.8,360.4 830.6,363.2 C830.4,365.9 829.6,368.5 828,370.8 C826.4,373.1 823.8,375.3 821,377 C818.2,378.7 813.5,379.7 811,381 C808.5,382.3 808.2,382.6 805.9,384.7 C803.6,386.8 798.5,392.1 797,393.6 L802.7,402.5 L774.8,421 L772,416.9 L742.3,438 L736.7,430.3 C735.3,429.8 732,428.8 728.2,427.4 C724.4,426 716.9,424.6 714,421.8 C711.1,419 711.5,412.6 711,410.8 C709.3,411.6 705.2,413.7 701,415.8 C696.8,417.9 690.7,421 685.8,423.5 C680.9,426 674.7,429.1 671.8,431 C668.9,432.9 669.3,433.2 668.6,434.9 C667.9,436.6 668.1,439.8 667.4,441.2 C666.7,442.6 664.7,442.8 664.2,443.1 C660.9,442.8 648.4,441.6 644.5,441.2 C640.6,440.8 641.3,440.7 640.7,440.6Z" stroke-width="1.45"/>
<path d="M645.8,431 L668.6,434" stroke-width="0.85" stroke="#222" fill="none"/>
<path d="M645.8,431 L644.5,441" stroke-width="0.85" stroke="#222" fill="none"/>
<ellipse cx="661.6" cy="440" rx="1.3" ry="1.6" transform="rotate(0 661.6 440)" stroke-width="0.85" stroke="#222"/>
<path d="M645.8,431 C646.8,429.4 649.6,424.9 652,421.5 C654.4,418.1 657.9,413.6 660.4,410.8 C662.9,408 663.5,406.7 666.7,404.6 C669.9,402.5 675.4,400.1 679.4,398 C683.4,395.9 687.8,393.8 690.8,391.7 C693.8,389.6 695.1,387.9 697.2,385.4 C699.3,382.9 701.2,379.1 703.5,376.8 C705.8,374.5 708.6,372.7 711.1,371.6 C713.6,370.5 716.9,370 718.8,370.2 C720.7,370.4 722,372.3 722.6,372.7" stroke-width="0.85" stroke="#222" fill="none"/>
<path d="M655,429 C655.8,428.4 657.8,426.1 660,425.5 C662.2,424.9 665.2,425.8 668,425.5 C670.8,425.2 674,424.8 677,424 C680,423.2 682.5,422.1 686,420.5 C689.5,418.9 694.3,416.4 698,414.5 C701.7,412.6 706.3,409.9 708,409" stroke-width="0.85" stroke="#222" fill="none"/>
<ellipse cx="673" cy="412.7" rx="7.5" ry="7" transform="rotate(-20 673 412.7)" stroke-width="1.05"/>
<ellipse cx="673.6" cy="412.2" rx="5.4" ry="5" transform="rotate(-20 673.6 412.2)" stroke-width="0.85" stroke="#222"/>
<path d="M669,410 C669.2,410.8 669.5,413.5 670.5,414.5 C671.5,415.5 674.2,415.8 675,416" stroke-width="0.85" stroke="#222" fill="none"/>
<path d="M664.2,410.8 C664.2,411.7 663.9,414.2 664.5,416 C665.1,417.8 666.6,420.2 668,421.5 C669.4,422.8 671.2,423.3 673,423.5 C674.8,423.7 677.2,423.3 679,422.5 C680.8,421.7 682.7,420 684,418.5 C685.3,417 686.5,414.2 687,413.3" stroke-width="0.85" stroke="#222" fill="none"/>
<path d="M679.4,399.3 L685.8,410.8 L687,413.3" stroke-width="0.85" stroke="#222" fill="none"/>
<path d="M682,400.6 L693.4,394.9 L695.3,396.8 L693.4,400.6" stroke-width="0.85" stroke="#222" fill="none"/>
<path d="M683.5,402.5 L692.5,398" stroke-width="0.85" stroke="#222" fill="none"/>
<ellipse cx="690.8" cy="405.7" rx="5.2" ry="2.5" transform="rotate(-22 690.8 405.7)" fill="#fff" stroke-width="1.5"/>
<ellipse cx="700.4" cy="412" rx="11.6" ry="1.7" transform="rotate(-20 700.4 412)" stroke-width="0.85" stroke="#222"/>
<path d="M690,418 L711,410.3" stroke-width="0.85" stroke="#222" fill="none"/>
<path d="M695.9,390.5 L703.5,399.3 L713.7,393" stroke-width="0.85" stroke="#222" fill="none"/>
<path d="M703.5,399.3 C702.6,399.9 699.6,402.1 698,403 C696.4,403.9 694.7,404.2 694,404.5" stroke-width="0.85" stroke="#222" fill="none"/>
<path d="M706,376.5 C706.8,376 709.1,374.1 711,373.5 C712.9,372.9 715.8,372.2 717.5,372.7 C719.2,373.2 720.7,375.9 721.3,376.5 C721,377.6 720.4,380.9 719.5,383 C718.6,385.1 716.8,388.2 716.2,389.2 L708.6,385.4 L706,376.5Z" stroke-width="0.85" stroke="#222" fill="none"/>
<ellipse cx="713.7" cy="381.6" rx="3.3" ry="4.8" transform="rotate(25 713.7 381.6)" stroke-width="1.05"/>
<path d="M710.8,380 L716.6,383.2" stroke-width="0.85" stroke="#222" fill="none"/>
<path d="M711.5,384.5 L715.8,378.8" stroke-width="0.85" stroke="#222" fill="none"/>
<path d="M726.8,373.8 C728,373.8 731.4,373.6 734,373.5 C736.6,373.4 739.3,373 742.3,373.3 C745.3,373.6 749.9,374 752.2,375.3 C754.6,376.6 755.7,380 756.4,380.9" stroke-width="0.85" stroke="#222" fill="none"/>
<path d="M735.3,376.7 C736.6,376.7 740.6,376.6 743,376.8 C745.4,377 747.6,377.1 749.4,378 C751.2,378.9 752.9,381.6 753.6,382.3" stroke-width="0.85" stroke="#222" fill="none"/>
<path d="M721,387 C721.3,385.8 722.1,382.1 723,380 C723.9,377.9 725.9,375.4 726.5,374.5" stroke-width="0.85" stroke="#222" fill="none"/>
<path d="M712,410 C712.8,410.9 715,413.8 717,415.5 C719,417.2 721.7,419.1 724,420.5 C726.3,421.9 729,423.1 731,424 C733,424.9 735.2,425.7 736,426" stroke-width="0.85" stroke="#222" fill="none"/>
<path d="M716.5,409.5 C717.2,410.3 719.2,412.9 721,414.5 C722.8,416.1 726,418.2 727,419" stroke-width="0.85" stroke="#222" fill="none"/>
<path d="M736,424.6 C735.2,423.7 732.4,421 731,419 C729.6,417 728.4,414.6 727.5,412.5 C726.6,410.4 726.2,409 725.4,406.3 C724.6,403.6 723.2,399.9 722.6,396.4 C722,392.9 721.6,387.8 721.9,385.1 C722.2,382.4 723.5,381.3 724.5,380 C725.5,378.7 727,378 728.2,377.4 C729.5,376.8 730.8,376.3 732,376.3 C733.2,376.3 734.2,376.9 735.3,377.4 C736.4,377.9 737.6,378.7 738.5,379.5 C739.4,380.3 740.3,380.7 740.9,382.3 C741.5,383.9 742.3,387.3 742.3,389.4 C742.3,391.5 741.5,393.4 741,395 C740.5,396.6 740,396.6 739.5,399.2 C739,401.8 738,407.2 738,410.5 C738,413.8 739.4,417 739.5,419 C739.6,421 739.1,421.6 738.5,422.5 C737.9,423.4 736.4,424.2 736,424.6Z" stroke-width="1.05"/>
<ellipse cx="733.1" cy="392.9" rx="6.2" ry="9.2" transform="rotate(22 733.1 392.9)" stroke-width="1.15"/>
<path d="M739,387.9 C739.1,388.1 739.4,388.9 739.5,389.4 C739.6,390 739.7,390.6 739.7,391.3 C739.7,391.9 739.6,392.6 739.4,393.3 C739.3,393.9 739.1,394.6 738.8,395.2 C738.6,395.9 738.2,396.5 737.9,397.1 C737.5,397.7 737.1,398.2 736.7,398.7 C736.2,399.2 735.8,399.6 735.3,399.9 C734.8,400.3 734.3,400.5 733.8,400.7 C733.3,400.9 732.8,401 732.4,401 C731.9,401 731.4,400.9 731,400.7 C730.6,400.5 730.2,400.3 729.9,400 C729.5,399.6 729.1,399 729,398.7" stroke-width="0.85" stroke="#222" fill="none"/>
<path d="M742,396 C742.8,396.2 745.3,396.6 747,397.5 C748.7,398.4 750.6,399.8 752,401.5 C753.4,403.2 754.7,405.6 755.5,407.5 C756.3,409.4 756.8,412.1 757,413" stroke-width="0.85" stroke="#222" fill="none"/>
<path d="M742.5,391 C743.4,391.2 746.2,391.2 748,392 C749.8,392.8 752.6,395.3 753.5,396" stroke-width="0.85" stroke="#222" fill="none"/>
<path d="M741,401.5 L746.5,405 L749.5,411.5" stroke-width="0.85" stroke="#222" fill="none"/>
<path d="M743,407 L748,412 L747,417" stroke-width="0.85" stroke="#222" fill="none"/>
<path d="M740,414 L745,418.5" stroke-width="0.85" stroke="#222" fill="none"/>
<path d="M749.5,409 L753.5,416 L756,415 L752.5,408.5" stroke-width="1.05" fill="none"/>
<path d="M753,415 L755.7,419.5 L757.3,418.7 L755,414.5Z" fill="#1a1a1a" stroke-width="0.6"/>
<ellipse cx="747.5" cy="408.5" rx="1.6" ry="2.2" transform="rotate(20 747.5 408.5)" stroke-width="0.85" stroke="#222"/>
<path d="M773.3,340 L756.4,386.5" stroke-width="1.05" fill="none"/>
<path d="M756.4,386.5 C756,387.8 754,391.6 753.8,394 C753.6,396.4 754,398.8 755,401 C756,403.2 757.9,405.4 759.5,407 C761.1,408.6 764,409.9 764.9,410.5" stroke-width="0.85" stroke="#222" fill="none"/>
<path d="M779,337.5 L766.3,386.5" stroke-width="1.05" fill="none"/>
<path d="M766.3,386.5 C766.2,387.8 765.2,391.8 765.5,394 C765.8,396.2 766.7,398.2 768,400 C769.3,401.8 772.6,403.8 773.5,404.5" stroke-width="0.85" stroke="#222" fill="none"/>
<path d="M783.6,339.5 L773,380" stroke-width="1.05" fill="none"/>
<path d="M768,353 C767.5,354.5 766,359.2 765,362 C764,364.8 763.3,367.5 762,370 C760.7,372.5 757.8,375.8 757,377" stroke-width="0.85" stroke="#222" fill="none"/>
<path d="M784,343 L798,338.5 C798.7,339.4 800.8,341.1 802,344 C803.2,346.9 804.2,352 805,356 C805.8,360 806.7,366 807,368 L779,388.5 L773,383.5 L784,343Z" stroke-width="1.05" fill="none"/>
<path d="M787,345.4 L797,342 L801,358 L788,365.7Z" stroke-width="1.05" fill="none"/>
<path d="M791,347 L795.5,358 L797,345" stroke-width="0.85" stroke="#222" fill="none"/>
<path d="M788,365.7 L787,370 L802,361.5 L801,358" stroke-width="0.85" stroke="#222" fill="none"/>
<path d="M786.5,373 L803,364" stroke-width="0.85" stroke="#222" fill="none"/>
<path d="M785.5,377 L804.5,366.5" stroke-width="0.85" stroke="#222" fill="none"/>
<path d="M781,385 L805.5,371" stroke-width="0.85" stroke="#222" fill="none"/>
<path d="M783.5,351 L786.7,353.8 L781.9,356.5 L785.1,359.2 L780.3,362 L783.5,364.8 L778.8,367.5 L782,370.2 L777.2,373 L780.4,375.8 L775.6,378.5 L778.8,381.2 L774,384" stroke-width="1.0" fill="none"/>
<path d="M784.7,351.6 L787.9,354.4 L783.1,357.1 L786.3,359.9 L781.5,362.6 L784.7,365.4 L780,368.1 L783.2,370.9 L778.4,373.6 L781.6,376.4 L776.8,379.1 L780,381.9 L775.2,384.6" stroke-width="0.7" fill="none"/>
<path d="M782.5,350 L773.5,382.5" stroke-width="0.85" stroke="#222" fill="none"/>
<path d="M788,352 L778.5,385.5" stroke-width="0.85" stroke="#222" fill="none"/>
<path d="M802,344 C802.7,343.7 804.5,342.7 806,342 C807.5,341.3 810.2,340.3 811,340" stroke-width="0.85" stroke="#222" fill="none"/>
<path d="M806,352 C806.5,353.7 808,358.7 809,362 C810,365.3 811.2,369.3 812,372 C812.8,374.7 813.7,377 814,378" stroke-width="0.85" stroke="#222" fill="none"/>
<path d="M803,350 C803.5,351.8 805,357.3 806,361 C807,364.7 808.2,369 809,372 C809.8,375 810.7,377.8 811,379" stroke-width="0.85" stroke="#222" fill="none"/>
<ellipse cx="819.3" cy="364" rx="7.4" ry="10" transform="rotate(22 819.3 364)" fill="none" stroke-width="0.85" stroke="#222"/>
<ellipse cx="820.5" cy="364.4" rx="5.7" ry="8.2" transform="rotate(22 820.5 364.4)" stroke-width="1.15"/>
<path d="M824.8,358.7 C825,358.9 825.4,359.3 825.7,359.6 C825.9,360 826.1,360.5 826.3,360.9 C826.4,361.4 826.5,361.9 826.5,362.5 C826.5,363 826.5,363.6 826.4,364.2 C826.3,364.8 826.2,365.4 826,366 C825.8,366.5 825.5,367.1 825.2,367.6 C825,368.1 824.6,368.7 824.3,369.1 C823.9,369.5 823.5,370 823.1,370.3 C822.7,370.6 822.2,370.9 821.8,371.1 C821.4,371.3 820.9,371.4 820.5,371.5 C820.1,371.5 819.6,371.5 819.3,371.4 C818.9,371.3 818.4,371 818.2,370.9" stroke-width="0.85" stroke="#222" fill="none"/>
<path d="M742,436 C743.7,434.7 748.3,431 752,428 C755.7,425 760,421.3 764,418 C768,414.7 772,411.2 776,408 C780,404.8 784.5,401.3 788,399 C791.5,396.7 795.5,394.8 797,394" stroke-width="0.85" stroke="#222" fill="none"/>
<path d="M768,415 C769.7,413.5 774.7,409.2 778,406 C781.3,402.8 784.7,399 788,396 C791.3,393 794.7,390.2 798,388 C801.3,385.8 806.3,383.8 808,383" stroke-width="0.85" stroke="#222" fill="none"/>
<path d="M775,412 C776.3,410.8 780.2,407.3 783,405 C785.8,402.7 790.5,399.2 792,398" stroke-width="0.85" stroke="#222" fill="none"/>
<path d="M736.7,430.3 L741,427.8 L771,417.3" stroke-width="0.85" stroke="#222" fill="none"/>
<path d="M741,430 L742.3,438" stroke-width="0.85" stroke="#222" fill="none"/>
<path d="M874.7,264.3 C876.5,265.1 883,268.2 885.5,268.8 C888,269.4 888.6,268.9 890,268.2 C891.4,267.4 892.8,266 893.9,264.3 C895,262.6 895.3,260.3 896.7,258 C898.1,255.7 900.3,252.7 902.4,250.7 C904.5,248.7 907.1,247.1 909.2,246.2 C911.3,245.3 912.7,244.9 914.8,245.4 C916.9,245.9 919.5,247.9 921.6,249.2 C923.7,250.5 926.3,252.4 927.2,253 C927.1,253.5 927,254.4 926.7,256.2 C926.4,258 926.3,260.9 925.6,263.7 C924.9,266.4 923.8,270.2 922.7,272.7 C921.7,275.1 920.4,276.9 919.3,278.4 C918.2,279.9 917.6,280.8 915.9,281.7 C914.2,282.6 910.9,283.1 909.2,284 C907.5,284.9 907.3,286.5 905.8,287.4 C904.3,288.3 901.6,288.7 900.1,289.6 C898.6,290.5 897.7,291.1 896.7,293 C895.7,294.9 895.4,298.8 893.9,300.9 C892.4,303 889.5,304.1 887.7,305.4 C885.9,306.7 885.1,308 883.2,308.8 C881.3,309.6 878.6,310.4 876.4,310 C874.1,309.6 871.6,308.1 869.7,306.6 C867.8,305.1 866.2,303.2 865.2,300.9 C864.2,298.6 864.1,295.1 864,293 C863.9,290.9 863.3,291.1 864.6,288.5 C865.9,285.9 870.6,279.6 872,277.2 C873.4,274.8 872.8,274.4 873,273.9 C872.5,273.6 870.9,272.9 870.2,272.2 C869.6,271.5 868.9,271 869.1,269.9 C869.3,268.8 870.5,266.3 871.4,265.4 C872.3,264.5 874.2,264.5 874.7,264.3Z" stroke-width="1.3"/>
<ellipse cx="916" cy="267.2" rx="8.6" ry="13.6" transform="rotate(13 916 267.2)" stroke-width="1.1"/>
<ellipse cx="916.6" cy="267.6" rx="7" ry="11.2" transform="rotate(13 916.6 267.6)" stroke-width="0.7"/>
<ellipse cx="917" cy="268" rx="4.9" ry="7.8" transform="rotate(13 917 268)" stroke-width="1.0"/>
<ellipse cx="917.2" cy="268.2" rx="3" ry="4.8" transform="rotate(13 917.2 268.2)" stroke-width="0.7"/>
<path d="M907,258 C906.9,259.2 906.3,262.3 906.5,265 C906.7,267.7 907.2,271.5 908,274 C908.8,276.5 910.5,279 911,280" stroke-width="0.7" fill="none"/>
<path d="M921.6,249.2 L917,251" stroke-width="0.7" fill="none"/>
<path d="M919,279 L923,277.5 L921,274" stroke-width="0.7" fill="none"/>
<path d="M885.5,272.2 L872,294.2 L871.5,304" stroke-width="0.7" fill="none"/>
<path d="M864.6,288.5 L872,294.2" stroke-width="0.7" fill="none"/>
<path d="M874.7,264.3 C876.5,265.6 882.5,270.6 885.5,272.2 C888.5,273.8 890.2,273.8 893,274 C895.8,274.2 899.7,273.2 902,273.5 C904.3,273.8 906.2,275.6 907,276" stroke-width="0.7" fill="none"/>
<path d="M880,284 C880.8,283.6 883.2,281.8 885,281.5 C886.8,281.2 889.2,281.2 891,282 C892.8,282.8 894.8,284.3 896,286 C897.2,287.7 897.7,291 898,292" stroke-width="0.7" fill="none"/>
<path d="M876,290 C876.1,289 875.7,285.8 876.5,284 C877.3,282.2 879.1,280.3 881,279.5 C882.9,278.7 885.8,278.7 888,279 C890.2,279.3 893,281.1 894,281.5" stroke-width="0.7" fill="none"/>
<path d="M900,289 C900.7,288.5 903,287.2 904,286 C905,284.8 905.7,282.7 906,282" stroke-width="0.7" fill="none"/>
<ellipse cx="881.5" cy="298.7" rx="3.5" ry="4.7" transform="rotate(25 881.5 298.7)" stroke-width="1.0"/>
<path d="M884.4,295.6 C884.5,295.8 884.8,296.1 885,296.4 C885.1,296.6 885.2,297 885.3,297.3 C885.4,297.7 885.4,298.1 885.3,298.5 C885.3,298.9 885.2,299.3 885,299.7 C884.9,300.1 884.7,300.4 884.5,300.8 C884.3,301.1 884,301.5 883.7,301.7 C883.5,302 883.2,302.3 882.8,302.4 C882.5,302.6 882.2,302.7 881.9,302.8 C881.6,302.8 881.3,302.8 881,302.8 C880.7,302.7 880.3,302.4 880.2,302.4" stroke-width="0.7" fill="none"/>
<path d="M819.9,273.6 C819.5,273.3 818.1,272.5 817.6,271.6 C817.1,270.7 816.7,269.6 816.8,268.2 C816.9,266.8 817.4,264.7 818.4,263.1 C819.4,261.5 821.2,259.6 822.6,258.6 C824,257.6 825.3,257 826.5,257.1 C827.7,257.2 829.2,258.1 829.9,259.1 C830.6,260.1 830.9,261.9 830.9,263.1 C830.9,264.4 830.1,266 829.9,266.6" stroke-width="1.7" fill="none"/>
<path d="M819.9,273.6 C820.2,273.3 821.3,272.8 821.6,272 C821.9,271.2 822,269.3 821.6,268.6 C821.2,267.9 819.4,267.8 819,267.6" stroke-width="1.3" fill="none"/>
<path d="M820.6,264 C820.9,263.8 821.8,263.1 822.5,262.6 C823.2,262.1 823.9,261.4 824.8,261 C825.7,260.6 827.3,260 827.7,260.2 C828.1,260.4 827.4,261.7 827.2,262.4 C827,263.1 826.4,264.1 826.3,264.4" stroke-width="1.2" fill="none"/>
<path d="M971.8,357.5 L952,347.8 L952,347.8 L951.4,347.3 L951,346.5 L950.8,345.5 L950.9,344.3 L951.2,343.1 L951.7,341.8 L952.4,340.6 L953.2,339.6 L954.1,338.8 L955,338.3 L955.9,338.1 L956.7,338.3 L956.7,338.3 L976.4,347.9Z"/>
<path d="M968.2,355.7 C968.1,355.6 967.6,355.2 967.4,354.9 C967.2,354.5 967.1,354 967,353.4 C967,352.9 967.1,352.2 967.2,351.6 C967.4,351 967.6,350.3 967.9,349.7 C968.2,349.1 968.6,348.4 969,347.9 C969.4,347.4 969.9,347 970.3,346.7 C970.8,346.4 971.2,346.1 971.7,346.1 C972.1,346 972.6,346.2 972.8,346.2" stroke-width="0.8" fill="none"/>
<path d="M966.4,354.8 C966.3,354.7 965.8,354.4 965.6,354 C965.4,353.6 965.3,353.1 965.2,352.5 C965.2,352 965.3,351.3 965.4,350.7 C965.6,350.1 965.8,349.4 966.1,348.8 C966.4,348.2 966.8,347.6 967.2,347.1 C967.6,346.6 968.1,346.1 968.5,345.8 C969,345.5 969.4,345.3 969.9,345.2 C970.3,345.1 970.8,345.3 971,345.3" stroke-width="0.8" fill="none"/>
<path d="M964.6,354 C964.5,353.8 964,353.5 963.8,353.1 C963.6,352.7 963.5,352.2 963.4,351.7 C963.4,351.1 963.5,350.5 963.6,349.8 C963.8,349.2 964,348.5 964.3,347.9 C964.6,347.3 965,346.7 965.4,346.2 C965.8,345.7 966.3,345.2 966.7,344.9 C967.2,344.6 967.6,344.4 968.1,344.3 C968.5,344.2 969.1,344.4 969.2,344.4" stroke-width="0.8" fill="none"/>
<path d="M962.8,353.1 C962.7,352.9 962.2,352.6 962,352.2 C961.8,351.8 961.7,351.3 961.6,350.8 C961.6,350.2 961.7,349.6 961.8,349 C962,348.3 962.2,347.6 962.5,347 C962.8,346.4 963.2,345.8 963.6,345.3 C964,344.8 964.5,344.4 964.9,344 C965.4,343.7 965.8,343.5 966.3,343.4 C966.7,343.3 967.3,343.5 967.5,343.6" stroke-width="0.8" fill="none"/>
<path d="M961,352.2 C960.9,352.1 960.4,351.7 960.2,351.4 C960,351 959.9,350.5 959.8,349.9 C959.8,349.4 959.9,348.7 960,348.1 C960.2,347.5 960.4,346.8 960.7,346.2 C961,345.6 961.4,344.9 961.8,344.4 C962.2,343.9 962.7,343.5 963.1,343.2 C963.6,342.9 964.1,342.6 964.5,342.6 C964.9,342.5 965.5,342.7 965.7,342.7" stroke-width="0.8" fill="none"/>
<path d="M959.2,351.3 C959.1,351.2 958.6,350.9 958.4,350.5 C958.2,350.1 958.1,349.6 958,349 C958,348.5 958.1,347.8 958.2,347.2 C958.4,346.6 958.6,345.9 958.9,345.3 C959.2,344.7 959.6,344.1 960,343.6 C960.4,343.1 960.9,342.6 961.3,342.3 C961.8,342 962.3,341.8 962.7,341.7 C963.1,341.6 963.7,341.8 963.9,341.8" stroke-width="0.8" fill="none"/>
<path d="M955.2,349.4 C955,349.2 954.5,348.9 954.3,348.5 C954.1,348.1 954,347.6 954,347.1 C954,346.5 954,345.9 954.2,345.2 C954.3,344.6 954.6,343.9 954.9,343.3 C955.2,342.7 955.6,342.1 956,341.6 C956.4,341.1 956.8,340.6 957.3,340.3 C957.7,340 958.2,339.8 958.6,339.7 C959.1,339.6 959.6,339.8 959.8,339.8" stroke-width="0.7" fill="none"/>
<path d="M981.1,368.1 L968.9,362.2 L968.9,362.2 L968,361.5 L967.2,360.6 L966.6,359.4 L966.2,358 L966,356.5 L966.1,354.8 L966.4,353 L966.9,351.3 L967.6,349.5 L968.6,347.9 L969.6,346.4 L970.8,345.1 L972.1,344 L973.4,343.2 L974.8,342.6 L976.1,342.4 L977.3,342.4 L978.4,342.8 L978.4,342.8 L990.5,348.7Z"/>
<ellipse cx="985.8" cy="358.4" rx="6.7" ry="10.8" transform="rotate(26 985.8 358.4)" stroke-width="1.2"/>
<path d="M988.9,360.2 L984.8,364 L981,362.2 L981.5,356.6 L985.6,352.8 L989.4,354.6Z" stroke-width="0.8" fill="none"/>
<ellipse cx="876.8" cy="400.3" rx="9.4" ry="12" transform="rotate(17 876.8 400.3)" stroke-width="1.3"/>
<ellipse cx="877" cy="400.5" rx="7.5" ry="10" transform="rotate(17 877 400.5)" stroke-width="0.9"/>
<path d="M904.2,427.4 L892.4,422 L892.4,422 L891.6,421.4 L891,420.3 L890.7,418.9 L890.8,417.3 L891.1,415.6 L891.8,413.8 L892.7,412.2 L893.7,410.8 L894.9,409.7 L896.2,409 L897.3,408.7 L898.4,408.9 L898.4,408.9 L910.2,414.3Z"/>
<path d="M902.4,426.6 C902.2,426.4 901.5,426 901.2,425.5 C901,424.9 900.8,424.2 900.7,423.5 C900.7,422.8 900.7,421.9 900.9,421 C901.1,420.2 901.4,419.2 901.8,418.4 C902.2,417.6 902.7,416.7 903.2,416 C903.7,415.3 904.4,414.7 904.9,414.2 C905.5,413.8 906.2,413.5 906.8,413.3 C907.3,413.2 908.1,413.5 908.4,413.5" stroke-width="0.7" fill="none"/>
<path d="M900.6,425.8 C900.4,425.6 899.7,425.1 899.4,424.6 C899.1,424.1 899,423.4 898.9,422.7 C898.8,421.9 898.9,421 899.1,420.2 C899.3,419.3 899.6,418.4 900,417.6 C900.3,416.7 900.8,415.9 901.4,415.2 C901.9,414.5 902.5,413.8 903.1,413.4 C903.7,413 904.4,412.6 904.9,412.5 C905.5,412.4 906.3,412.6 906.5,412.6" stroke-width="0.7" fill="none"/>
<path d="M898.8,424.9 C898.6,424.7 897.9,424.3 897.6,423.8 C897.3,423.3 897.1,422.6 897.1,421.8 C897,421.1 897.1,420.2 897.3,419.4 C897.4,418.5 897.8,417.6 898.1,416.7 C898.5,415.9 899,415 899.6,414.3 C900.1,413.7 900.7,413 901.3,412.6 C901.9,412.1 902.6,411.8 903.1,411.7 C903.7,411.6 904.5,411.8 904.7,411.8" stroke-width="0.7" fill="none"/>
<path d="M896.9,424.1 C896.7,423.9 896.1,423.5 895.8,423 C895.5,422.5 895.3,421.8 895.3,421 C895.2,420.3 895.3,419.4 895.4,418.5 C895.6,417.7 895.9,416.7 896.3,415.9 C896.7,415.1 897.2,414.2 897.7,413.5 C898.3,412.8 898.9,412.2 899.5,411.7 C900.1,411.3 900.7,411 901.3,410.9 C901.9,410.7 902.6,411 902.9,411" stroke-width="0.7" fill="none"/>
<path d="M895.1,423.3 C894.9,423.1 894.2,422.7 894,422.1 C893.7,421.6 893.5,420.9 893.4,420.2 C893.4,419.4 893.5,418.6 893.6,417.7 C893.8,416.9 894.1,415.9 894.5,415.1 C894.9,414.2 895.4,413.4 895.9,412.7 C896.4,412 897.1,411.4 897.7,410.9 C898.3,410.5 898.9,410.2 899.5,410 C900.1,409.9 900.8,410.1 901.1,410.2" stroke-width="0.7" fill="none"/>
<path d="M893.3,422.4 C893.1,422.2 892.4,421.8 892.1,421.3 C891.9,420.8 891.7,420.1 891.6,419.4 C891.6,418.6 891.6,417.7 891.8,416.9 C892,416 892.3,415.1 892.7,414.2 C893.1,413.4 893.6,412.6 894.1,411.9 C894.6,411.2 895.3,410.5 895.8,410.1 C896.4,409.6 897.1,409.3 897.7,409.2 C898.2,409.1 899,409.3 899.3,409.3" stroke-width="0.7" fill="none"/>
<path d="M903.3,427 L904.5,426.9 C906.4,427.8 913.5,430.8 916.3,432.3 C919.1,433.7 919.8,434.2 921.3,435.7 C922.9,437.1 924.5,439.7 925.6,440.9 C926.6,442 927.2,442.3 927.5,442.6 L929.8,443.7 L939.2,422.9 L937,421.9 C936.5,421.8 935.9,421.6 934.3,421.6 C932.8,421.6 929.7,422 927.6,421.8 C925.5,421.6 924.7,421.4 921.8,420.2 C918.8,419.1 911.9,415.8 909.9,414.9 L909.3,413.9 L903.3,427Z"/>
<path d="M904.5,426.9 C904.3,426.7 903.6,426.3 903.3,425.8 C903.1,425.3 902.9,424.7 902.8,424 C902.8,423.3 902.8,422.5 903,421.7 C903.1,420.9 903.4,420 903.7,419.3 C904.1,418.5 904.6,417.7 905.1,417.1 C905.5,416.5 906.1,415.9 906.7,415.5 C907.3,415.1 907.9,414.8 908.4,414.7 C908.9,414.6 909.7,414.8 909.9,414.9" stroke-width="0.7" fill="none"/>
<path d="M909.9,429.4 C909.7,429.2 909.1,428.8 908.8,428.3 C908.5,427.8 908.3,427.2 908.3,426.5 C908.2,425.8 908.3,425 908.4,424.2 C908.6,423.4 908.9,422.5 909.2,421.8 C909.6,421 910,420.2 910.5,419.6 C911,419 911.6,418.4 912.2,418 C912.7,417.6 913.3,417.3 913.9,417.2 C914.4,417.1 915.1,417.3 915.4,417.3" stroke-width="0.9" fill="none"/>
<path d="M918.9,433.8 C918.7,433.6 918,433.2 917.8,432.7 C917.5,432.2 917.3,431.5 917.2,430.8 C917.2,430.1 917.2,429.2 917.4,428.4 C917.6,427.6 917.8,426.7 918.2,425.9 C918.6,425.1 919.1,424.3 919.6,423.6 C920.1,422.9 920.7,422.3 921.3,421.9 C921.9,421.5 922.5,421.2 923,421.1 C923.6,421 924.4,421.2 924.6,421.2" stroke-width="0.7" fill="none"/>
<path d="M927.5,442.6 C927.2,442.4 926.3,441.9 925.8,441.4 C925.3,440.9 924.8,440.3 924.5,439.6 C924.2,438.9 923.9,438.1 923.7,437.3 C923.6,436.4 923.5,435.5 923.6,434.6 C923.6,433.7 923.8,432.7 924,431.8 C924.2,430.8 924.6,429.8 925,429 C925.4,428.1 925.9,427.2 926.4,426.4 C927,425.6 927.6,424.8 928.3,424.2 C929,423.6 929.7,423 930.4,422.6 C931.2,422.2 931.9,421.8 932.7,421.6 C933.4,421.4 934.2,421.3 934.9,421.4 C935.6,421.4 936.6,421.8 937,421.9" stroke-width="0.7" fill="none"/>
<ellipse cx="934.5" cy="433.3" rx="8" ry="11.4" transform="rotate(22 934.5 433.3)" stroke-width="1.2"/>
<ellipse cx="935" cy="433.7" rx="3.2" ry="4.6" transform="rotate(22 935 433.7)" stroke-width="0.9"/>
<ellipse cx="935" cy="433.7" rx="2" ry="3" transform="rotate(22 935 433.7)" stroke-width="0.6"/>
<path d="M699.8,442.6 L711.3,447.4" stroke-width="4.3" stroke="#161616" fill="none"/>
<path d="M699.8,442.6 L711.3,447.4" stroke-width="1.8" stroke="#fff" fill="none"/>
<path d="M680.7,482.4 L693,457.8 L693,457.8 L693.6,457.4 L694.8,457.5 L696.2,458 L697.5,458.8 L698.3,459.7 L698.3,460.4 L698.3,460.4 L686.1,485Z" fill="#b4b4b4" stroke-width="1.2"/>
<path d="M681.6,480.6 L687.4,482.5" stroke-width="0.75" stroke="#3a3a3a" fill="none"/>
<path d="M682.3,479.1 L688.1,481" stroke-width="0.75" stroke="#3a3a3a" fill="none"/>
<path d="M683,477.7 L688.8,479.6" stroke-width="0.75" stroke="#3a3a3a" fill="none"/>
<path d="M683.8,476.2 L689.5,478.1" stroke-width="0.75" stroke="#3a3a3a" fill="none"/>
<path d="M684.5,474.8 L690.3,476.7" stroke-width="0.75" stroke="#3a3a3a" fill="none"/>
<path d="M685.2,473.3 L691,475.2" stroke-width="0.75" stroke="#3a3a3a" fill="none"/>
<path d="M685.9,471.9 L691.7,473.8" stroke-width="0.75" stroke="#3a3a3a" fill="none"/>
<path d="M686.7,470.4 L692.4,472.3" stroke-width="0.75" stroke="#3a3a3a" fill="none"/>
<path d="M687.4,469 L693.2,470.9" stroke-width="0.75" stroke="#3a3a3a" fill="none"/>
<path d="M688.1,467.5 L693.9,469.4" stroke-width="0.75" stroke="#3a3a3a" fill="none"/>
<path d="M688.8,466.1 L694.6,468" stroke-width="0.75" stroke="#3a3a3a" fill="none"/>
<path d="M689.6,464.6 L695.3,466.5" stroke-width="0.75" stroke="#3a3a3a" fill="none"/>
<path d="M690.3,463.2 L696,465.1" stroke-width="0.75" stroke="#3a3a3a" fill="none"/>
<path d="M691,461.7 L696.8,463.6" stroke-width="0.75" stroke="#3a3a3a" fill="none"/>
<path d="M691.7,460.3 L697.5,462.2" stroke-width="0.75" stroke="#3a3a3a" fill="none"/>
<path d="M692.4,458.8 L698.2,460.7" stroke-width="0.75" stroke="#3a3a3a" fill="none"/>
<path d="M677.7,483.1 L681.2,482 L686.1,484.4 L687.3,487.9Z" stroke-width="0.9"/>
<ellipse cx="682" cy="486.1" rx="5.8" ry="2.6" transform="rotate(25 682 486.1)" stroke-width="1.0"/>
<ellipse cx="643.8" cy="531" rx="11.6" ry="3.3" transform="rotate(3 643.8 531)" stroke-width="1.3"/>
<ellipse cx="643.8" cy="531" rx="8.4" ry="1.5" transform="rotate(3 643.8 531)" stroke-width="0.8"/>
<path d="M636.3,558 C636.5,557.6 636.5,556.1 637.5,555.6 C638.5,555.1 640.5,555.2 642,555.2 C643.5,555.2 645.5,555.3 646.5,555.8 C647.5,556.3 647.6,557.6 647.8,558 L647.8,570.5 L650,571.5 L649,581.5 C648.5,581.7 647.2,582.4 646,582.6 C644.8,582.9 643,583 641.5,583 C640,583 638.2,582.9 637,582.6 C635.8,582.4 634.5,581.7 634,581.5 L632.6,571 L636.3,570 L636.3,558Z" stroke-width="1.2"/>
<path d="M636.3,558.6 C637.2,558.8 640.1,559.5 642,559.6 C643.9,559.7 646.8,559.1 647.8,559" stroke-width="0.8" fill="none"/>
<path d="M636.3,561 C637.2,561.2 640.1,561.9 642,562 C643.9,562.1 646.8,561.5 647.8,561.4" stroke-width="0.8" fill="none"/>
<path d="M636.3,563.4 C637.2,563.6 640.1,564.3 642,564.4 C643.9,564.5 646.8,563.9 647.8,563.8" stroke-width="0.8" fill="none"/>
<path d="M636.3,565.8 C637.2,566 640.1,566.7 642,566.8 C643.9,566.9 646.8,566.3 647.8,566.2" stroke-width="0.8" fill="none"/>
<path d="M636.3,568.2 C637.2,568.4 640.1,569.1 642,569.2 C643.9,569.3 646.8,568.7 647.8,568.6" stroke-width="0.8" fill="none"/>
<path d="M632.6,571 C634,571.4 638.1,573.2 641,573.3 C643.9,573.4 648.5,571.8 650,571.5" stroke-width="0.8" fill="none"/>
<path d="M636.3,570 C637.2,570.2 640.1,571.2 642,571.3 C643.9,571.4 646.8,570.6 647.8,570.5" stroke-width="0.7" fill="none"/>
<path d="M636.5,580.5 C637.3,580.6 639.8,581.3 641.5,581.3 C643.2,581.3 645.7,580.8 646.5,580.7" stroke-width="0.6" fill="none"/>
<path d="M467.5,513.2 L490.8,499.6 L493,499.4 L493,499.4 L493.6,499.3 L494.4,499.8 L495.1,500.7 L495.6,501.7 L495.6,502.7 L495.2,503.2 L495.2,503.2 L494,505.1 L470.7,518.7Z" fill="#b4b4b4" stroke-width="1.2"/>
<path d="M471.8,510.7 L475.9,515.7" stroke-width="0.75" stroke="#3a3a3a" fill="none"/>
<path d="M473.2,509.8 L477.3,514.8" stroke-width="0.75" stroke="#3a3a3a" fill="none"/>
<path d="M474.7,509 L478.8,514" stroke-width="0.75" stroke="#3a3a3a" fill="none"/>
<path d="M476.2,508.1 L480.3,513.1" stroke-width="0.75" stroke="#3a3a3a" fill="none"/>
<path d="M477.6,507.3 L481.7,512.3" stroke-width="0.75" stroke="#3a3a3a" fill="none"/>
<path d="M479.1,506.4 L483.2,511.4" stroke-width="0.75" stroke="#3a3a3a" fill="none"/>
<path d="M480.6,505.5 L484.7,510.5" stroke-width="0.75" stroke="#3a3a3a" fill="none"/>
<path d="M482,504.7 L486.1,509.7" stroke-width="0.75" stroke="#3a3a3a" fill="none"/>
<path d="M483.5,503.8 L487.6,508.8" stroke-width="0.75" stroke="#3a3a3a" fill="none"/>
<path d="M485,502.9 L489.1,508" stroke-width="0.75" stroke="#3a3a3a" fill="none"/>
<path d="M486.4,502.1 L490.5,507.1" stroke-width="0.75" stroke="#3a3a3a" fill="none"/>
<path d="M487.9,501.2 L492,506.2" stroke-width="0.75" stroke="#3a3a3a" fill="none"/>
<path d="M489.4,500.4 L493.5,505.4" stroke-width="0.75" stroke="#3a3a3a" fill="none"/>
<path d="M490.8,499.5 L494.9,504.5" stroke-width="0.75" stroke="#3a3a3a" fill="none"/>
<path d="M467.5,513.2 L471.3,510.9 L474.6,516.5 L470.7,518.7Z" stroke-width="0.9"/>
<path d="M463.8,512.9 L467.3,510.9 L467.3,510.9 L468.1,510.8 L469.1,511.3 L470.3,512.2 L471.4,513.6 L472.3,515.2 L472.9,516.8 L473.2,518.3 L473.1,519.4 L472.6,520 L472.6,520 L469.2,522.1 L469.2,522.1 L468.3,522.2 L467.2,521.8 L466,520.8 L464.9,519.5 L464,517.9 L463.4,516.3 L463.1,514.8 L463.3,513.6 L463.8,512.9Z" stroke-width="1.1"/>
<path d="M463.8,512.9 C463.9,512.9 464.3,512.8 464.6,512.8 C464.9,512.8 465.2,512.9 465.5,513.1 C465.9,513.3 466.2,513.5 466.6,513.8 C466.9,514.1 467.3,514.5 467.6,514.9 C468,515.3 468.3,515.8 468.6,516.3 C468.8,516.8 469.1,517.3 469.3,517.8 C469.5,518.2 469.7,518.7 469.8,519.2 C469.8,519.7 469.9,520.1 469.9,520.5 C469.9,520.9 469.8,521.2 469.7,521.5 C469.6,521.7 469.3,522 469.2,522.1" stroke-width="0.7" fill="none"/>
<path d="M464.4,517.5 L468.9,517.2" stroke-width="0.8" fill="none"/>
<path d="M464.2,513.6 L469.3,521.1" stroke-width="0.8" fill="none"/>
<path d="M506,506.2 L533.6,490 L535.8,489.8 L535.8,489.8 L536.4,489.8 L537.2,490.3 L537.9,491.2 L538.4,492.2 L538.4,493.1 L538,493.7 L538,493.7 L536.8,495.5 L509.2,511.7Z" fill="#b4b4b4" stroke-width="1.2"/>
<path d="M510.3,503.7 L514.4,508.7" stroke-width="0.75" stroke="#3a3a3a" fill="none"/>
<path d="M511.7,502.8 L515.8,507.8" stroke-width="0.75" stroke="#3a3a3a" fill="none"/>
<path d="M513.2,502 L517.3,507" stroke-width="0.75" stroke="#3a3a3a" fill="none"/>
<path d="M514.7,501.1 L518.8,506.1" stroke-width="0.75" stroke="#3a3a3a" fill="none"/>
<path d="M516.1,500.3 L520.2,505.3" stroke-width="0.75" stroke="#3a3a3a" fill="none"/>
<path d="M517.6,499.4 L521.7,504.4" stroke-width="0.75" stroke="#3a3a3a" fill="none"/>
<path d="M519.1,498.5 L523.2,503.5" stroke-width="0.75" stroke="#3a3a3a" fill="none"/>
<path d="M520.5,497.7 L524.6,502.7" stroke-width="0.75" stroke="#3a3a3a" fill="none"/>
<path d="M522,496.8 L526.1,501.8" stroke-width="0.75" stroke="#3a3a3a" fill="none"/>
<path d="M523.5,495.9 L527.6,501" stroke-width="0.75" stroke="#3a3a3a" fill="none"/>
<path d="M524.9,495.1 L529,500.1" stroke-width="0.75" stroke="#3a3a3a" fill="none"/>
<path d="M526.4,494.2 L530.5,499.2" stroke-width="0.75" stroke="#3a3a3a" fill="none"/>
<path d="M527.9,493.4 L532,498.4" stroke-width="0.75" stroke="#3a3a3a" fill="none"/>
<path d="M529.3,492.5 L533.4,497.5" stroke-width="0.75" stroke="#3a3a3a" fill="none"/>
<path d="M530.8,491.6 L534.9,496.7" stroke-width="0.75" stroke="#3a3a3a" fill="none"/>
<path d="M532.3,490.8 L536.4,495.8" stroke-width="0.75" stroke="#3a3a3a" fill="none"/>
<path d="M533.7,489.9 L537.8,494.9" stroke-width="0.75" stroke="#3a3a3a" fill="none"/>
<path d="M506,506.2 L509.8,503.9 L513.1,509.5 L509.2,511.7Z" stroke-width="0.9"/>
<path d="M502.3,505.9 L505.8,503.9 L505.8,503.9 L506.6,503.8 L507.6,504.3 L508.8,505.2 L509.9,506.6 L510.8,508.2 L511.4,509.8 L511.7,511.3 L511.6,512.4 L511.1,513 L511.1,513 L507.7,515.1 L507.7,515.1 L506.8,515.2 L505.7,514.8 L504.5,513.8 L503.4,512.5 L502.5,510.9 L501.9,509.3 L501.6,507.8 L501.8,506.6 L502.3,505.9Z" stroke-width="1.1"/>
<path d="M502.3,505.9 C502.4,505.9 502.8,505.8 503.1,505.8 C503.4,505.8 503.7,505.9 504,506.1 C504.4,506.3 504.7,506.5 505.1,506.8 C505.4,507.1 505.8,507.5 506.1,507.9 C506.5,508.3 506.8,508.8 507.1,509.3 C507.3,509.8 507.6,510.3 507.8,510.8 C508,511.2 508.2,511.7 508.3,512.2 C508.3,512.7 508.4,513.1 508.4,513.5 C508.4,513.9 508.3,514.2 508.2,514.5 C508.1,514.7 507.8,515 507.7,515.1" stroke-width="0.7" fill="none"/>
<path d="M502.9,510.5 L507.4,510.2" stroke-width="0.8" fill="none"/>
<path d="M502.7,506.6 L507.8,514.1" stroke-width="0.8" fill="none"/>
<path d="M537.5,470.5 C538,469.9 538.6,468.8 539.5,468.6 C540.4,468.4 542,468.9 543,469.5 C544,470.1 545,471.4 545.5,472.5 C546,473.6 546.2,475 546,476 C545.8,477 544.2,477.9 544.5,478.5 C544.8,479.1 546.9,478.8 548,479.5 C549.1,480.2 550.3,481.7 551,483 C551.7,484.3 552.3,486.2 552.3,487.5 C552.3,488.8 551.8,490.4 551,491 C550.2,491.6 548.6,491.5 547.5,491 C546.4,490.5 545.2,489.2 544.5,488 C543.8,486.8 543.2,485.2 543,484 C542.8,482.8 544,481.8 543.5,481 C543,480.2 541,480.3 540,479.5 C539,478.7 538,477.2 537.5,476 C537,474.8 536.8,473.4 536.8,472.5 C536.8,471.6 537,471.1 537.5,470.5Z" stroke-width="1.5"/>
<path d="M540,472.5 C540.4,472.9 541.9,474 542.5,475 C543.1,476 543.3,477.9 543.5,478.5" stroke-width="0.7" fill="none"/>
<path d="M546,483 C546.4,483.4 547.9,484.5 548.5,485.5 C549.1,486.5 549.3,488.4 549.5,489" stroke-width="0.7" fill="none"/>
<path d="M538.5,470 C538.9,470.2 540.1,470.2 541,471 C541.9,471.8 543.4,473.3 544,474.5 C544.6,475.7 544.7,477.4 544.8,478" stroke-width="0.6" fill="none"/>
</g>
<g fill="none" stroke="#333" stroke-width="0.95">
<line x1="282" y1="57.6" x2="322" y2="80.7"/>
<line x1="371" y1="109" x2="386" y2="117.7"/>
<line x1="427" y1="141.4" x2="452" y2="155.8"/>
<line x1="477.5" y1="170.5" x2="492" y2="178.9"/>
<line x1="646" y1="267.8" x2="678" y2="286.3"/>
<line x1="719.5" y1="310.2" x2="735" y2="319.2"/>
<line x1="239" y1="153.5" x2="246" y2="157.5"/>
<line x1="286" y1="180.6" x2="300" y2="188.7"/>
<line x1="362" y1="224.4" x2="373" y2="230.8"/>
<line x1="412" y1="253.3" x2="438" y2="268.3"/>
<line x1="454" y1="277.5" x2="462" y2="282.1"/>
<line x1="481.5" y1="293.3" x2="493" y2="300"/>
<line x1="552" y1="334" x2="590" y2="355.9"/>
<line x1="881.5" y1="298.7" x2="900" y2="310.3"/>
<line x1="820.5" y1="364.4" x2="832" y2="370.5"/>
<line x1="868" y1="394" x2="896" y2="412.5"/>
<line x1="788" y1="425" x2="727" y2="390"/>
<line x1="717" y1="416" x2="702" y2="442"/>
<line x1="64" y1="424" x2="118" y2="454"/>
<line x1="69" y1="564" x2="86" y2="573.5"/>
<line x1="170" y1="622" x2="186" y2="630.5"/>
</g>
<g fill="none" stroke="#080808" stroke-width="2.05" stroke-linejoin="miter" stroke-linecap="butt">
<path d="M233,160 L159,208 L520,427 L602,374"/>
<path d="M336.6,67 L510.5,67 L510.5,325.4 L423,325.4 L336.6,276Z"/>
<path d="M586,185 L612,168 L667,201 L637,222"/>
<path d="M824,255 L824,179 L981,271 L981,342"/>
<path d="M884,216 L884,266"/>
<path d="M874,414 L874,443 L921,471 L921,440"/>
<path d="M714.4,449 L736.4,461 L718,498 L689,484"/>
<path d="M657,532.4 L679,535 L676,581 L651,577.6"/>
<path d="M473.6,522 L473.6,563 L550,521 L550,493"/>
<path d="M513,517 L513,541"/>
<path d="M10.4,373.4 L249.6,373.4 L320.6,415.6 L320.6,701 L10.4,701Z"/>
<path d="M203,457.6 L226,441.6 L281.6,475 L258,492"/>
</g>
<g font-family="'Liberation Sans', Arial, sans-serif" fill="#111">
<text x="572.7" y="134" font-size="24.1" textLength="91.2" lengthAdjust="spacingAndGlyphs">GS Type</text>
<text x="199.3" y="687.1" font-size="24.1" textLength="107.2" lengthAdjust="spacingAndGlyphs">SGS Type</text>
<text x="401.8" y="463.6" font-size="14.9" stroke="#111" stroke-width="0.3" textLength="94.2" lengthAdjust="spacingAndGlyphs">M4 x 18.7mm</text>
<text x="368.8" y="490.6" font-size="14.9" stroke="#111" stroke-width="0.3" textLength="93.4" lengthAdjust="spacingAndGlyphs">M4 x 16.5mm</text>
</g>
</g>
</svg>
</body></html>
